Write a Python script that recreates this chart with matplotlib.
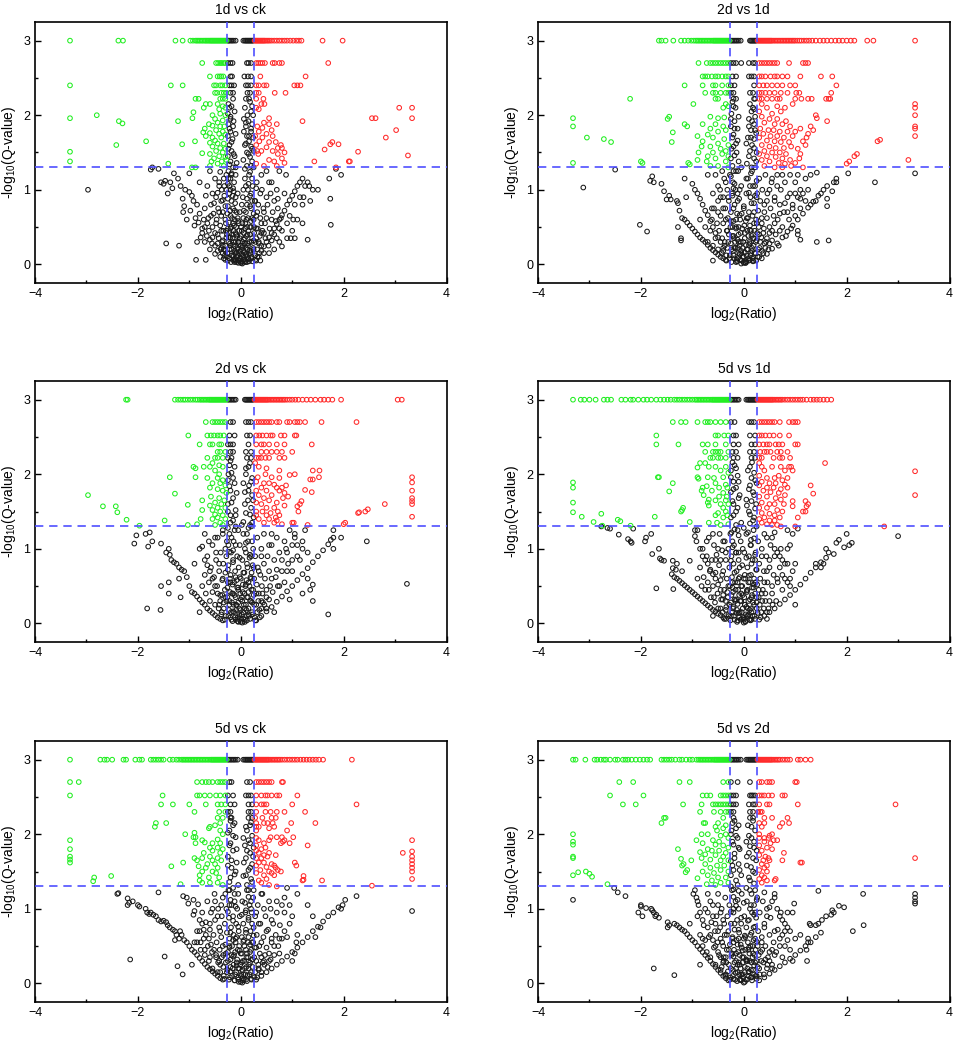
import matplotlib.pyplot as plt

plt.rcParams.update({'font.family': ['Liberation Sans', 'DejaVu Sans'], 'font.size': 8.5,
                     'mathtext.fontset': 'custom', 'mathtext.rm': 'Liberation Sans',
                     'mathtext.default': 'regular'})

titles = ["1d vs ck", "2d vs 1d", "2d vs ck", "5d vs 1d", "5d vs ck", "5d vs 2d"]

fc_cut = 0.263   # log2(1.2)
q_cut = 1.301    # -log10(0.05)

# ---------- 1d vs ck ----------
p1_green_rows = [
    (3.0, [-3.32, -2.38, -2.29, -1.27, -1.13, -0.98, -0.93, -0.88, -0.85, -0.82, -0.79, -0.76, -0.73, -0.7, -0.675, -0.65,
           -0.625, -0.6, -0.58, -0.56, -0.54, -0.52, -0.5, -0.48, -0.46, -0.44, -0.42, -0.4, -0.38, -0.36, -0.34, -0.32, -0.3, -0.28]),
    (2.7, [-0.75, -0.48, -0.44, -0.4, -0.37, -0.33, -0.3]),
    (2.52, [-0.6, -0.45, -0.41, -0.38, -0.34]),
    (2.4, [-3.32, -1.36, -1.13, -0.52, -0.48, -0.4, -0.36, -0.3]),
    (2.3, [-0.5, -0.46, -0.38, -0.33, -0.28]),
    (2.22, [-0.88, -0.82, -0.4, -0.35, -0.3]),
]
p1_green_pts = [(-0.68, 2.15), (-0.6, 2.15), (-0.45, 2.15), (-0.35, 2.12), (-0.72, 2.1), (-0.42, 2.08), (-0.3, 2.1), (-2.8, 2.0),
                (-0.55, 2.0), (-0.4, 2.02), (-0.3, 2.0), (-0.92, 2.04), (-3.32, 1.96), (-0.94, 1.96), (-0.5, 1.95), (-0.35, 1.93),
                (-2.37, 1.92), (-1.22, 1.92), (-0.45, 1.9), (-2.3, 1.89), (-0.62, 1.88), (-0.55, 1.86), (-0.4, 1.85), (-0.32, 1.85),
                (-0.7, 1.82), (-0.48, 1.8), (-0.35, 1.78), (-0.73, 1.77), (-0.6, 1.76), (-0.42, 1.75), (-0.3, 1.74), (-0.68, 1.72),
                (-0.55, 1.7), (-0.38, 1.7), (-0.5, 1.66), (-1.84, 1.65), (-0.89, 1.65), (-0.6, 1.63), (-0.45, 1.62), (-0.33, 1.62),
                (-2.42, 1.6), (-1.14, 1.61), (-0.55, 1.58), (-0.4, 1.56), (-0.3, 1.55), (-0.48, 1.52), (-3.32, 1.51), (-0.35, 1.5),
                (-0.75, 1.49), (-0.6, 1.48), (-0.42, 1.45), (-0.3, 1.44), (-0.52, 1.42), (-3.32, 1.38), (-0.57, 1.38), (-0.37, 1.38),
                (-1.41, 1.35), (-0.45, 1.35), (-0.6, 1.32), (-0.95, 1.3), (-0.88, 1.3), (-0.33, 1.32), (-0.28, 1.4)]
p1_red_rows = [
    (3.0, [0.27, 0.29, 0.31, 0.33, 0.35, 0.37, 0.39, 0.41, 0.43, 0.45, 0.47, 0.5, 0.53, 0.56, 0.6, 0.65, 0.7, 0.75, 0.8, 0.85,
           0.9, 0.96, 1.02, 1.08, 1.13, 1.18, 1.59, 1.98]),
    (2.7, [0.3, 0.34, 0.38, 0.42, 0.47, 0.62, 0.66, 0.75, 0.8, 1.7]),
    (2.52, [0.38, 1.26]),
    (2.4, [0.3, 0.35, 0.45, 0.5, 1.04, 1.1, 1.16]),
    (2.3, [0.3, 0.35, 0.66, 0.87]),
    (2.22, [0.3, 0.44]),
]
p1_red_pts = [(0.4, 2.15), (0.46, 2.15), (0.3, 2.1), (0.35, 2.08), (3.08, 2.1), (3.33, 2.1), (0.55, 1.96), (2.55, 1.96),
              (2.62, 1.96), (3.33, 1.96), (1.2, 1.92), (0.45, 1.9), (0.7, 1.88), (0.55, 1.88), (0.32, 1.85), (0.42, 1.83),
              (0.6, 1.8), (3.02, 1.8), (0.35, 1.78), (0.5, 1.75), (0.28, 1.72), (0.42, 1.7), (0.62, 1.72), (2.82, 1.7),
              (0.36, 1.65), (0.55, 1.64), (0.68, 1.64), (0.78, 1.6), (1.78, 1.64), (1.74, 1.61), (1.9, 1.61), (0.3, 1.6),
              (0.5, 1.57), (0.72, 1.56), (0.8, 1.56), (1.63, 1.54), (0.32, 1.52), (0.4, 1.52), (0.62, 1.52), (0.85, 1.5),
              (2.28, 1.51), (0.72, 1.48), (0.34, 1.48), (3.25, 1.46), (0.8, 1.42), (0.55, 1.4), (1.43, 1.38), (2.1, 1.38),
              (2.12, 1.38), (0.65, 1.38), (0.85, 1.36), (0.3, 1.35), (0.45, 1.32), (0.7, 1.32), (1.85, 1.3)]
p1_black_rows = [
    (3.0, [-0.25, -0.23, -0.2, -0.17, -0.14, -0.1, 0.05, 0.08, 0.1, 0.12, 0.14, 0.16, 0.18, 0.2, 0.22, 0.24]),
    (2.7, [-0.25, -0.2, -0.16, 0.12, 0.15, 0.2]),
    (2.52, [-0.2, -0.17, 0.07, 0.14, 0.2]),
    (2.4, [-0.22, -0.18, -0.13, 0.1, 0.14, 0.2]),
    (2.3, [-0.2, -0.15, 0.13, 0.18]),
    (2.22, [-0.15, 0.1, 0.16]),
]
p1_black_pts = [(-0.22, 2.1), (0.22, 2.12), (-0.25, 2.02), (0.13, 2.0), (0.2, 2.05), (-0.2, 1.95), (0.06, 1.95), (0.15, 1.92),
                (-0.24, 1.88), (-0.15, 1.85), (0.1, 1.85), (0.22, 1.88), (-0.2, 1.78), (0.2, 1.78), (0.12, 1.72), (-0.25, 1.72),
                (-0.16, 1.68), (0.16, 1.65), (0.24, 1.7), (-0.22, 1.6), (0.08, 1.6), (0.2, 1.58), (-0.18, 1.52), (0.12, 1.5),
                (0.25, 1.52), (-0.25, 1.45), (-0.12, 1.45), (0.18, 1.44), (-0.2, 1.38), (0.05, 1.4), (0.22, 1.38), (-0.15, 1.3),
                (0.12, 1.32), (0.25, 1.3), (-0.24, 1.25), (0.18, 1.24), (-0.1, 1.2), (-0.2, 1.15), (0.08, 1.15), (0.22, 1.15),
                (-0.25, 1.08), (0.15, 1.08), (-0.15, 1.02), (0.3, 1.02), (0.05, 1.0), (-0.22, 0.95), (0.2, 0.95), (-0.1, 0.9),
                (0.12, 0.88), (-0.18, 0.85), (0.28, 0.85), (0.02, 0.8), (-0.25, 0.78), (0.18, 0.78), (-0.12, 0.72), (0.1, 0.7),
                (0.25, 0.68), (-0.2, 0.65), (0.05, 0.62), (-0.05, 0.58), (0.2, 0.58), (-0.15, 0.55), (0.12, 0.5), (-0.25, 0.48),
                (0.3, 0.48), (0.02, 0.45), (-0.1, 0.42), (0.18, 0.4), (-0.2, 0.36), (0.08, 0.35), (0.25, 0.32), (-0.05, 0.3),
                (-0.15, 0.26), (0.14, 0.25), (0.03, 0.22), (-0.22, 0.2), (0.2, 0.18), (-0.08, 0.16), (0.1, 0.14), (-0.15, 0.12),
                (0.05, 0.1), (-0.02, 0.08), (0.15, 0.07), (-0.1, 0.05), (0.08, 0.04), (0.0, 0.02), (-0.05, 0.02), (0.03, 0.01),
                (-0.12, 0.03), (0.12, 0.03),
                (-2.97, 1.0), (-1.75, 1.27), (-1.72, 1.3), (-1.6, 1.28), (-1.55, 1.1), (-1.5, 1.08), (-1.47, 1.12), (-1.42, 0.95),
                (-1.37, 1.1), (-1.33, 1.02), (-1.3, 1.22), (-1.22, 1.15), (-1.17, 1.05), (-1.13, 0.88), (-1.1, 0.78), (-1.12, 0.7),
                (-1.08, 1.0), (-1.0, 0.97), (-0.98, 0.72), (-0.95, 0.92), (-0.92, 0.85), (-0.9, 0.52), (-0.88, 0.62), (-0.85, 0.8),
                (-0.82, 0.56), (-0.8, 0.68), (-0.78, 0.36), (-0.75, 0.48), (-0.72, 0.6), (-0.7, 0.75), (-0.7, 0.3), (-0.68, 0.92),
                (-0.65, 1.05), (-0.62, 0.45), (-0.6, 0.2), (-0.58, 0.65), (-0.55, 0.36), (-0.52, 0.82), (-0.5, 0.14), (-0.5, 1.15),
                (-0.48, 0.55), (-0.45, 0.28), (-0.45, 0.96), (-0.42, 0.7), (-0.4, 0.1), (-0.4, 1.24), (-0.38, 0.45), (-0.35, 0.86),
                (-0.33, 0.2), (-0.32, 1.05), (-0.3, 0.6), (-0.3, 0.06), (-0.28, 0.36), (-0.28, 1.2), (-1.45, 0.28), (-1.2, 0.25),
                (-0.87, 0.06), (-0.68, 0.06), (-0.8, 1.1), (-0.6, 1.25), (-1.0, 1.22), (-0.55, 0.95), (-0.65, 0.55), (-0.45, 0.4),
                (-0.35, 0.25), (-0.38, 0.65), (-0.42, 1.05), (-0.85, 0.3), (-1.05, 0.6),
                (0.3, 0.05), (0.35, 0.1), (0.4, 0.18), (0.45, 0.24), (0.5, 0.3), (0.55, 0.36), (0.6, 0.42), (0.65, 0.48),
                (0.7, 0.54), (0.75, 0.6), (0.8, 0.66), (0.85, 0.72), (0.9, 0.8), (0.95, 0.86), (1.0, 0.92), (1.05, 0.98),
                (1.1, 1.05), (1.15, 1.1), (1.2, 1.15), (0.35, 0.3), (0.4, 0.55), (0.45, 0.7), (0.5, 0.9), (0.55, 1.1),
                (0.6, 0.6), (0.65, 0.85), (0.7, 1.0), (0.75, 0.3), (0.8, 0.45), (0.85, 0.95), (0.9, 0.55), (0.95, 0.65),
                (1.0, 0.45), (1.02, 0.6), (1.05, 0.8), (1.1, 0.6), (1.15, 0.9), (1.2, 0.8), (1.22, 0.9), (1.25, 1.05),
                (1.3, 1.1), (1.33, 1.05), (1.4, 1.0), (1.5, 1.0), (1.2, 0.55), (1.3, 0.33), (0.97, 0.35), (0.8, 0.24),
                (1.75, 0.53), (1.74, 0.88), (1.72, 1.15), (1.95, 1.2), (1.85, 1.28), (0.4, 1.2), (0.5, 1.25), (0.38, 0.95),
                (0.32, 0.7), (0.6, 1.1), (0.65, 0.2), (0.55, 0.15), (0.45, 0.42), (0.72, 0.75), (0.88, 1.2), (0.75, 1.25),
                (1.35, 0.85), (1.05, 0.35), (0.9, 0.35)]
p1_black_core = [(-0.75, 0.42), (-0.7, 0.5), (-0.66, 0.38), (-0.63, 0.62), (-0.6, 0.33), (-0.58, 0.8), (-0.56, 0.28), (-0.55, 0.5),
                 (-0.53, 0.68), (-0.5, 0.25), (-0.5, 0.42), (-0.48, 0.9), (-0.47, 0.6), (-0.45, 0.18), (-0.44, 0.75), (-0.43, 0.35),
                 (-0.42, 1.1), (-0.4, 0.52), (-0.39, 0.2), (-0.38, 0.85), (-0.37, 1.0), (-0.36, 0.3), (-0.35, 0.15), (-0.35, 0.7),
                 (-0.34, 0.45), (-0.33, 1.15), (-0.32, 0.92), (-0.31, 0.12), (-0.3, 0.78), (-0.3, 0.25), (-0.29, 0.55), (-0.28, 1.0),
                 (-0.27, 0.4), (-0.27, 0.1), (-0.26, 0.68), (-0.25, 0.88), (-0.24, 0.3), (-0.24, 1.15), (-0.23, 0.56), (-0.22, 0.08),
                 (-0.22, 0.42), (-0.21, 0.72), (-0.2, 1.0), (-0.2, 0.25), (-0.19, 0.5), (-0.18, 1.2), (-0.18, 0.12), (-0.17, 0.62),
                 (-0.16, 0.92), (-0.16, 0.35), (-0.15, 0.75), (-0.14, 0.05), (-0.14, 0.45), (-0.13, 1.1), (-0.12, 0.18), (-0.12, 0.6),
                 (-0.11, 0.82), (-0.1, 0.3), (-0.1, 1.3), (-0.09, 0.5), (-0.08, 0.1), (-0.08, 0.7), (-0.07, 0.38), (-0.06, 0.95),
                 (-0.06, 0.22), (-0.05, 0.05), (-0.04, 0.55), (-0.03, 0.15), (-0.02, 0.35), (-0.02, 0.7), (0.0, 0.08), (0.0, 0.25),
                 (0.01, 0.5), (0.02, 0.04), (0.03, 0.3), (0.04, 0.9), (0.05, 0.18), (0.06, 0.42), (0.06, 0.72), (0.07, 0.06),
                 (0.08, 0.28), (0.09, 0.55), (0.1, 1.05), (0.1, 0.12), (0.11, 0.38), (0.12, 0.8), (0.13, 0.2), (0.14, 0.62),
                 (0.15, 0.08), (0.15, 0.45), (0.16, 1.2), (0.17, 0.3), (0.18, 0.92), (0.19, 0.15), (0.2, 0.5), (0.2, 0.75),
                 (0.21, 0.1), (0.22, 0.35), (0.23, 1.05), (0.24, 0.22), (0.25, 0.6), (0.26, 0.42), (0.27, 0.85), (0.28, 0.12),
                 (0.29, 0.3), (0.3, 0.65), (0.31, 1.1), (0.32, 0.2), (0.33, 0.48), (0.34, 0.8), (0.36, 0.15), (0.37, 0.38),
                 (0.38, 0.62), (0.4, 0.25), (0.41, 1.0), (0.42, 0.45), (0.44, 0.75), (0.45, 0.15), (0.47, 0.55), (0.48, 0.35),
                 (0.5, 0.62), (0.52, 0.8), (0.54, 0.25), (0.56, 0.48), (0.58, 0.95), (0.6, 0.32), (0.62, 0.7), (0.65, 0.4),
                 (0.68, 0.58), (0.7, 0.35), (0.72, 0.88), (0.75, 0.48), (0.78, 0.62),
                 (-0.24, 2.15), (-0.18, 2.12), (-0.12, 2.05), (0.08, 2.1), (0.18, 2.18), (0.24, 2.0), (-0.2, 1.98), (-0.14, 1.92),
                 (0.1, 1.9), (0.2, 1.82), (-0.22, 1.82), (-0.1, 1.75), (0.06, 1.78), (0.16, 1.72), (-0.18, 1.64), (-0.24, 1.55),
                 (0.1, 1.62), (0.22, 1.55), (-0.14, 1.48), (0.15, 1.48), (-0.22, 1.34), (-0.08, 1.36), (0.2, 1.32), (0.08, 1.28),
                 (-0.18, 1.22)]
p1_black_base = [(-0.38, 0.22), (-0.35, 0.32), (-0.33, 0.08), (-0.3, 0.18), (-0.28, 0.45), (-0.26, 0.15), (-0.25, 0.05),
                 (-0.23, 0.36), (-0.21, 0.28), (-0.2, 0.48), (-0.19, 0.03), (-0.18, 0.2), (-0.17, 0.4), (-0.15, 0.1), (-0.14, 0.3),
                 (-0.13, 0.52), (-0.12, 0.07), (-0.11, 0.24), (-0.1, 0.15), (-0.09, 0.4), (-0.08, 0.03), (-0.07, 0.2), (-0.06, 0.62),
                 (-0.05, 0.12), (-0.04, 0.3), (-0.03, 0.45), (-0.02, 0.05), (-0.01, 0.18), (0.0, 0.38), (0.01, 0.02), (0.02, 0.14),
                 (0.03, 0.55), (0.04, 0.25), (0.05, 0.06), (0.06, 0.33), (0.07, 0.16), (0.08, 0.48), (0.09, 0.03), (0.1, 0.22),
                 (0.11, 0.6), (0.12, 0.1), (0.13, 0.4), (0.14, 0.28), (0.16, 0.04), (0.17, 0.18), (0.18, 0.5), (0.2, 0.08),
                 (0.21, 0.3), (0.22, 0.62), (0.23, 0.04), (0.25, 0.2), (0.26, 0.5), (0.28, 0.06), (0.3, 0.35), (0.32, 0.1),
                 (0.35, 0.28), (0.38, 0.05), (0.4, 0.42), (-0.22, 1.05), (-0.14, 0.98), (0.14, 1.0), (0.22, 0.85)]

# ---------- 2d vs 1d ----------
p2_green_rows = [
    (3.0, [-1.65, -1.6, -1.52, -1.37, -1.22, -1.15, -1.08, -1.02, -0.97, -0.93, -0.9, -0.87, -0.84, -0.81, -0.78, -0.75, -0.72,
           -0.69, -0.66, -0.63, -0.6, -0.58, -0.56, -0.54, -0.52, -0.5, -0.48, -0.46, -0.44, -0.42, -0.4, -0.38, -0.36, -0.34,
           -0.32, -0.3, -0.28]),
    (2.7, [-0.88, -0.72, -0.65, -0.6, -0.55, -0.5, -0.45, -0.4, -0.35, -0.3]),
    (2.52, [-0.8, -0.75, -0.7, -0.62, -0.55, -0.5, -0.42, -0.35, -0.3]),
    (2.4, [-1.15, -0.8, -0.6, -0.55, -0.42, -0.3]),
    (2.3, [-0.75, -0.6, -0.55, -0.45, -0.35, -0.3]),
    (2.22, [-2.21, -0.55, -0.5]),
]
p2_green_pts = [(-0.98, 2.15), (-0.35, 2.15), (-0.4, 2.1), (-0.3, 2.12), (-3.32, 1.96), (-3.32, 1.85), (-1.45, 1.98), (-1.48, 1.95),
                (-0.65, 1.98), (-0.5, 1.96), (-0.38, 1.97), (-1.15, 1.88), (-1.1, 1.85), (-0.8, 1.88), (-0.55, 1.88), (-0.4, 1.85),
                (-0.65, 1.82), (-0.35, 1.8), (-1.38, 1.77), (-0.5, 1.78), (-0.7, 1.74), (-0.9, 1.72), (-3.05, 1.7), (-0.6, 1.7),
                (-0.38, 1.68), (-2.72, 1.68), (-2.58, 1.64), (-1.4, 1.64), (-0.8, 1.65), (-0.5, 1.62), (-0.3, 1.6), (-0.82, 1.58),
                (-0.65, 1.58), (-0.45, 1.55), (-0.35, 1.52), (-0.88, 1.5), (-0.6, 1.5), (-0.42, 1.48), (-0.3, 1.45), (-0.7, 1.45),
                (-0.9, 1.4), (-0.55, 1.42), (-0.72, 1.38), (-0.35, 1.38), (-2.0, 1.38), (-1.97, 1.36), (-1.08, 1.36), (-1.05, 1.34),
                (-3.32, 1.36), (-0.5, 1.32), (-0.65, 1.32), (-0.3, 1.3)]
p2_red_rows = [
    (3.0, [0.27, 0.29, 0.31, 0.33, 0.35, 0.37, 0.39, 0.41, 0.43, 0.45, 0.47, 0.49, 0.51, 0.53, 0.55, 0.58, 0.61, 0.64, 0.67,
           0.7, 0.73, 0.76, 0.79, 0.82, 0.85, 0.88, 0.91, 0.94, 0.97, 1.0, 1.04, 1.08, 1.12, 1.17, 1.22, 1.27, 1.33, 1.4, 1.48,
           1.55, 1.62, 1.7, 1.78, 1.85, 1.92, 2.0, 2.08, 2.15, 2.4, 2.52, 3.33]),
    (2.7, [0.3, 0.35, 0.4, 0.45, 0.5, 0.55, 0.6, 0.65, 0.88, 1.15, 1.2, 1.25]),
    (2.52, [0.3, 0.35, 0.42, 0.52, 0.6, 0.65, 0.75, 0.85, 1.1, 1.5, 1.72]),
    (2.4, [0.3, 0.38, 0.45, 0.55, 0.65, 0.75, 0.9, 1.0, 1.8]),
    (2.3, [0.3, 0.35, 0.42, 0.5, 0.6, 0.72, 0.85, 1.02, 1.08, 1.7]),
    (2.22, [0.3, 0.35, 0.45, 0.55, 0.65, 0.7, 1.0, 1.12, 1.25, 1.32, 1.6, 1.65, 1.68]),
]
p2_red_pts = [(0.35, 2.15), (0.45, 2.1), (0.65, 2.12), (0.8, 2.1), (0.95, 2.15), (0.3, 2.05), (0.55, 2.02), (0.72, 2.05),
              (1.4, 2.0), (1.42, 1.96), (1.62, 1.92), (0.35, 1.98), (0.5, 1.95), (0.65, 1.95), (0.82, 1.92), (0.4, 1.9),
              (0.6, 1.88), (0.75, 1.88), (0.9, 1.85), (1.1, 1.82), (1.3, 1.85), (1.35, 1.8), (0.32, 1.82), (0.48, 1.8),
              (0.58, 1.8), (0.7, 1.78), (0.85, 1.78), (1.0, 1.78), (1.25, 1.75), (0.38, 1.75), (0.52, 1.72), (0.65, 1.72),
              (0.78, 1.7), (0.95, 1.72), (1.22, 1.7), (0.3, 1.7), (0.45, 1.66), (0.6, 1.65), (0.72, 1.64), (0.88, 1.64),
              (1.15, 1.65), (1.2, 1.6), (2.6, 1.65), (2.65, 1.67), (0.35, 1.6), (0.5, 1.58), (0.62, 1.56), (0.78, 1.56),
              (0.92, 1.58), (1.05, 1.55), (0.4, 1.52), (0.55, 1.5), (0.7, 1.5), (0.82, 1.48), (1.1, 1.48), (0.3, 1.48),
              (0.45, 1.45), (0.62, 1.44), (0.75, 1.42), (0.9, 1.4), (1.08, 1.42), (2.2, 1.48), (2.15, 1.45), (0.35, 1.4),
              (0.5, 1.38), (0.68, 1.36), (0.8, 1.35), (1.0, 1.36), (2.05, 1.38), (2.0, 1.35), (3.2, 1.4), (0.4, 1.32),
              (0.6, 1.3), (0.75, 1.3), (0.92, 1.32), (1.15, 1.3), (3.33, 2.15), (3.33, 2.1), (3.33, 2.0), (3.33, 1.85),
              (3.33, 1.82), (3.33, 1.72)]
p2_black_rows = [
    (3.0, [-0.25, -0.22, -0.19, -0.16, -0.13, -0.1, -0.06, 0.12, 0.14, 0.16, 0.18, 0.2, 0.22, 0.24]),
    (2.7, [-0.25, -0.2, -0.15, -0.05, 0.1, 0.18, 0.22]),
    (2.52, [-0.22, -0.15, 0.1, 0.15, 0.2]),
    (2.4, [-0.25, -0.18, 0.2]),
    (2.3, [-0.25, -0.2, 0.12, 0.18]),
    (2.22, [-0.2, -0.15, 0.2, 0.22]),
]
p2_black_pts = [(-0.2, 2.12), (0.18, 2.1), (-0.24, 2.02), (0.15, 2.05), (0.22, 1.98), (-0.18, 1.92), (0.1, 1.95), (0.2, 1.88),
                (-0.25, 1.85), (-0.12, 1.82), (0.14, 1.8), (0.24, 1.76), (-0.2, 1.74), (0.08, 1.7), (0.2, 1.68), (-0.15, 1.62),
                (0.16, 1.6), (-0.24, 1.55), (0.12, 1.52), (0.25, 1.5), (-0.18, 1.46), (0.2, 1.42), (-0.1, 1.38), (0.06, 1.35),
                (-0.22, 1.32), (0.22, 1.3), (-0.15, 1.25), (0.14, 1.22), (-0.25, 1.18), (0.05, 1.15), (0.25, 1.12), (-0.18, 1.08),
                (0.18, 1.05), (-0.08, 1.0), (0.1, 0.96), (-0.22, 0.92), (0.25, 0.9), (-0.12, 0.85), (0.15, 0.82), (0.0, 0.78),
                (-0.2, 0.75), (0.2, 0.7), (-0.08, 0.66), (0.08, 0.62), (-0.25, 0.58), (0.25, 0.55), (-0.15, 0.5), (0.12, 0.46),
                (0.02, 0.42), (-0.2, 0.38), (0.2, 0.35), (-0.1, 0.3), (0.1, 0.26), (-0.18, 0.22), (0.16, 0.18), (-0.05, 0.15),
                (0.05, 0.12), (-0.12, 0.08), (0.12, 0.06), (0.0, 0.03), (-0.05, 0.01), (0.04, 0.02), (-0.15, 0.03), (0.18, 0.04),
                (-1.2, 0.62), (-1.15, 0.6), (-1.1, 0.56), (-1.05, 0.52), (-1.0, 0.48), (-0.95, 0.44), (-0.9, 0.4), (-0.85, 0.36),
                (-0.8, 0.33), (-0.75, 0.3), (-0.7, 0.26), (-0.65, 0.22), (-0.6, 0.19), (-0.55, 0.16), (-0.5, 0.13), (-0.45, 0.1),
                (-0.4, 0.08), (-0.35, 0.06), (-1.0, 1.08), (-0.95, 1.0), (-0.9, 0.95), (-0.85, 0.88), (-0.8, 0.8), (-0.75, 0.72),
                (-0.7, 0.66), (-0.65, 0.58), (-0.6, 0.5), (-0.55, 0.42), (-0.5, 0.36), (-0.45, 0.3), (-0.4, 0.22),
                (-0.55, 1.2), (-0.5, 1.05), (-0.45, 0.9), (-0.4, 0.75), (-0.35, 0.6), (-0.32, 0.45), (-0.6, 0.95), (-0.7, 1.2),
                (-0.42, 1.25), (-0.35, 1.1), (-0.3, 0.9), (-0.5, 0.7), (-0.62, 0.75), (-0.85, 0.6), (-0.75, 0.5),
                (-3.12, 1.03), (-2.5, 1.27), (-2.02, 0.53), (-1.88, 0.44), (-1.78, 1.18), (-1.82, 1.12), (-1.75, 1.1), (-1.6, 1.08),
                (-1.55, 0.98), (-1.5, 0.87), (-1.45, 0.92), (-1.42, 0.87), (-1.3, 0.85), (-1.28, 0.82), (-1.25, 0.72), (-1.28, 0.5),
                (-1.22, 0.35), (-1.22, 0.32), (-1.15, 1.15), (-1.12, 0.9), (-0.6, 0.05),
                (0.35, 0.08), (0.45, 0.14), (0.55, 0.21), (0.65, 0.28), (0.75, 0.36), (0.85, 0.44), (0.95, 0.52), (1.05, 0.6),
                (1.15, 0.68), (1.25, 0.76), (1.35, 0.84), (1.45, 0.92), (1.55, 1.0), (1.62, 1.05), (1.3, 0.8), (1.4, 0.85),
                (1.5, 0.95), (0.4, 0.28), (0.5, 0.42), (0.6, 0.55), (0.7, 0.68), (0.8, 0.82), (0.9, 0.95), (1.0, 1.1),
                (1.05, 1.2), (0.3, 0.4), (0.35, 0.55), (0.4, 0.7), (0.45, 0.85), (0.5, 1.0), (0.55, 1.15), (0.65, 1.05),
                (0.75, 1.2), (0.6, 0.85), (0.85, 0.7), (0.7, 0.45), (0.95, 0.8), (1.1, 1.0),
                (1.05, 0.45), (1.05, 0.4), (1.1, 0.33), (1.42, 0.3), (1.65, 0.32), (2.55, 1.1), (2.03, 1.22), (1.8, 1.1),
                (1.75, 1.1), (1.8, 1.15), (1.72, 0.98), (1.62, 0.88), (1.62, 0.78), (1.42, 1.23), (3.33, 1.22), (1.3, 1.2),
                (1.2, 1.15), (1.0, 0.95), (1.1, 0.88)]
p2_black_core = [(-0.7, 0.3), (-0.65, 0.45), (-0.62, 0.6), (-0.6, 0.25), (-0.58, 0.75), (-0.55, 0.35), (-0.52, 0.55), (-0.5, 0.2),
                 (-0.5, 0.85), (-0.48, 0.45), (-0.46, 1.0), (-0.45, 0.65), (-0.43, 0.15), (-0.42, 0.35), (-0.4, 0.9), (-0.4, 0.55),
                 (-0.38, 1.15), (-0.37, 0.25), (-0.36, 0.75), (-0.34, 0.12), (-0.33, 0.45), (-0.32, 1.0), (-0.31, 0.62), (-0.3, 0.3),
                 (-0.29, 0.85), (-0.28, 0.08), (-0.27, 1.2), (-0.26, 0.5), (-0.25, 0.7), (-0.24, 0.2), (-0.23, 0.95), (-0.22, 0.38),
                 (-0.21, 1.1), (-0.2, 0.58), (-0.2, 0.12), (-0.18, 0.8), (-0.17, 0.3), (-0.16, 1.0), (-0.15, 0.48), (-0.14, 0.06),
                 (-0.13, 0.68), (-0.12, 0.22), (-0.11, 1.25), (-0.1, 0.4), (-0.09, 0.88), (-0.08, 0.14), (-0.07, 0.6), (-0.06, 0.3),
                 (-0.05, 1.05), (-0.04, 0.05), (-0.03, 0.48), (-0.02, 0.22), (0.0, 0.75), (0.0, 0.1), (0.02, 0.35), (0.03, 0.02),
                 (0.04, 0.58), (0.05, 0.95), (0.06, 0.2), (0.07, 0.45), (0.08, 1.15), (0.09, 0.08), (0.1, 0.7), (0.11, 0.3),
                 (0.12, 0.52), (0.13, 0.9), (0.14, 0.15), (0.15, 0.38), (0.16, 1.25), (0.17, 0.65), (0.18, 0.05), (0.19, 0.25),
                 (0.2, 0.82), (0.21, 0.45), (0.22, 1.05), (0.23, 0.15), (0.24, 0.6), (0.25, 0.32), (0.26, 0.95), (0.27, 0.1),
                 (0.28, 0.72), (0.29, 0.5), (0.3, 1.15), (0.31, 0.22), (0.32, 0.85), (0.34, 0.36), (0.35, 0.62), (0.36, 1.0),
                 (0.38, 0.15), (0.39, 0.48), (0.4, 0.8), (0.42, 1.2), (0.43, 0.3), (0.45, 0.62), (0.46, 0.95), (0.48, 0.2),
                 (0.5, 0.5), (0.52, 0.75), (0.54, 1.1), (0.55, 0.32), (0.58, 0.65), (0.6, 0.9), (0.62, 0.4), (0.65, 1.2),
                 (0.66, 0.6), (0.68, 0.25), (0.7, 0.8), (0.72, 1.0), (0.75, 0.5), (0.78, 0.7), (0.8, 1.1), (0.82, 0.38),
                 (0.85, 0.9), (0.88, 0.6), (0.9, 1.2), (0.92, 0.48), (0.95, 0.75), (1.0, 0.65), (1.05, 0.9), (1.1, 0.75),
                 (1.15, 0.95), (1.2, 0.85), (1.25, 1.0),
                 (-0.22, 2.18), (-0.16, 2.1), (0.12, 2.15), (0.2, 2.08), (-0.25, 1.95), (-0.1, 1.98), (0.16, 1.92), (-0.18, 1.82),
                 (0.1, 1.85), (0.22, 1.8), (-0.22, 1.7), (-0.12, 1.66), (0.14, 1.7), (0.05, 1.62), (-0.2, 1.58), (0.2, 1.56),
                 (-0.14, 1.5), (0.1, 1.45), (-0.25, 1.42), (0.24, 1.38), (-0.05, 1.3), (0.15, 1.3), (-0.2, 1.25)]
p2_black_base = [(-0.4, 0.18), (-0.37, 0.3), (-0.34, 0.05), (-0.32, 0.22), (-0.29, 0.4), (-0.27, 0.12), (-0.25, 0.28),
                 (-0.24, 0.03), (-0.22, 0.5), (-0.21, 0.18), (-0.19, 0.35), (-0.18, 0.08), (-0.16, 0.22), (-0.15, 0.6),
                 (-0.13, 0.04), (-0.12, 0.33), (-0.11, 0.15), (-0.1, 0.5), (-0.08, 0.25), (-0.07, 0.06), (-0.06, 0.42),
                 (-0.05, 0.18), (-0.04, 0.68), (-0.02, 0.1), (-0.01, 0.3), (0.0, 0.02), (0.01, 0.52), (0.02, 0.16), (0.04, 0.26),
                 (0.05, 0.04), (0.06, 0.62), (0.08, 0.2), (0.09, 0.38), (0.1, 0.05), (0.12, 0.28), (0.13, 0.12), (0.14, 0.45),
                 (0.16, 0.22), (0.17, 0.08), (0.18, 0.35), (0.2, 0.55), (0.21, 0.15), (0.23, 0.3), (0.24, 0.05), (0.26, 0.42),
                 (0.28, 0.2), (0.3, 0.1), (0.32, 0.3), (0.35, 0.18), (0.38, 0.42), (0.42, 0.22), (0.45, 0.35), (0.5, 0.28),
                 (0.55, 0.45), (-0.2, 1.02), (-0.12, 0.95), (0.12, 1.05), (0.22, 0.92)]

# ---------- 2d vs ck ----------
p3_green_rows = [
    (3.0, [-2.23, -2.2, -1.28, -1.22, -1.17, -1.12, -1.08, -1.03, -0.98, -0.93, -0.88, -0.84, -0.8, -0.77, -0.74, -0.71,
           -0.68, -0.65, -0.62, -0.6, -0.58, -0.56, -0.54, -0.52, -0.5, -0.48, -0.46, -0.44, -0.42, -0.4, -0.38, -0.36,
           -0.34, -0.32, -0.3, -0.28]),
    (2.7, [-0.68, -0.55, -0.5, -0.45, -0.4, -0.35, -0.3]),
    (2.52, [-1.02, -0.65, -0.58, -0.52, -0.45, -0.4, -0.33]),
    (2.4, [-0.8, -0.6, -0.55, -0.42, -0.38]),
    (2.3, [-0.45, -0.4, -0.3]),
    (2.22, [-0.65, -0.5, -0.45, -0.35]),
]
p3_green_pts = [(-0.55, 2.15), (-0.6, 2.1), (-0.42, 2.12), (-0.35, 2.1), (-0.92, 2.1), (-0.88, 2.08), (-0.72, 2.1), (-0.5, 2.05),
                (-0.42, 2.0), (-1.38, 1.96), (-0.88, 1.96), (-0.65, 1.95), (-0.45, 1.95), (-0.35, 1.92), (-0.55, 1.88), (-0.4, 1.88),
                (-0.3, 1.85), (-0.6, 1.82), (-0.45, 1.8), (-0.35, 1.78), (-0.28, 1.75), (-1.28, 1.74), (-2.97, 1.72), (-0.58, 1.7),
                (-0.42, 1.68), (-0.32, 1.65), (-0.75, 1.65), (-0.5, 1.62), (-0.38, 1.6), (-2.68, 1.57), (-2.43, 1.57), (-1.03, 1.59),
                (-0.6, 1.58), (-0.45, 1.55), (-0.3, 1.55), (-0.55, 1.52), (-0.4, 1.5), (-0.75, 1.52), (-2.4, 1.49), (-0.5, 1.46),
                (-0.35, 1.45), (-0.45, 1.42), (-0.55, 1.4), (-0.3, 1.4), (-0.78, 1.4), (-2.22, 1.39), (-1.48, 1.38), (-0.4, 1.35),
                (-0.5, 1.32), (-0.35, 1.32), (-1.03, 1.32), (-0.85, 1.33), (-1.97, 1.31)]
p3_red_rows = [
    (3.0, [0.27, 0.29, 0.31, 0.33, 0.35, 0.37, 0.39, 0.41, 0.43, 0.45, 0.47, 0.49, 0.51, 0.53, 0.56, 0.59, 0.62, 0.65, 0.68,
           0.71, 0.74, 0.77, 0.8, 0.83, 0.86, 0.9, 0.95, 1.0, 1.06, 1.12, 1.2, 1.28, 1.36, 1.45, 1.55, 1.62, 1.7, 1.78, 1.95,
           3.05, 3.13]),
    (2.7, [0.3, 0.35, 0.4, 0.45, 0.5, 0.55, 0.6, 0.7, 0.75, 0.9, 0.95, 1.05, 1.1, 1.15, 1.25, 1.57, 2.25]),
    (2.52, [0.3, 0.36, 0.42, 0.5, 0.58, 0.62, 0.78, 0.85, 1.05, 1.08]),
    (2.4, [0.3, 0.4, 0.45, 0.55, 0.7, 0.85, 1.38]),
    (2.3, [0.4, 0.5, 0.6, 0.7, 0.8, 1.0]),
    (2.22, [0.3, 0.35, 0.4, 0.48, 0.55, 0.75, 0.85]),
]
p3_red_pts = [(0.28, 2.15), (0.35, 2.1), (0.5, 2.08), (0.48, 2.0), (0.75, 2.05), (1.4, 2.05), (1.53, 2.05), (1.05, 2.0),
              (0.95, 1.99), (0.33, 1.96), (0.6, 1.96), (0.75, 1.95), (1.35, 1.93), (1.4, 1.93), (1.52, 1.96), (0.3, 1.9),
              (0.45, 1.88), (0.55, 1.88), (0.65, 1.86), (0.4, 1.82), (0.7, 1.82), (0.8, 1.82), (0.88, 1.85), (0.3, 1.78),
              (0.5, 1.78), (0.75, 1.78), (0.85, 1.75), (1.25, 1.79), (1.38, 1.76), (0.35, 1.72), (0.6, 1.72), (0.92, 1.7),
              (0.45, 1.68), (0.55, 1.65), (0.82, 1.68), (0.3, 1.62), (0.7, 1.62), (1.18, 1.64), (1.15, 1.6), (0.4, 1.6),
              (0.85, 1.58), (1.1, 1.57), (0.5, 1.55), (0.65, 1.55), (0.3, 1.5), (0.42, 1.5), (0.58, 1.48), (0.72, 1.5),
              (1.12, 1.5), (0.3, 1.45), (0.5, 1.45), (0.68, 1.42), (0.75, 1.45), (0.35, 1.4), (0.55, 1.4), (0.7, 1.38),
              (0.45, 1.35), (0.65, 1.35), (0.8, 1.33), (1.0, 1.35), (1.03, 1.35), (1.3, 1.32), (2.0, 1.33), (2.03, 1.35),
              (2.28, 1.48), (2.3, 1.49), (2.42, 1.5), (2.47, 1.53), (2.8, 1.6), (3.33, 1.96), (3.33, 1.89), (3.33, 1.78),
              (3.33, 1.68), (3.33, 1.64), (3.33, 1.6), (3.33, 1.43)]
p3_black_rows = [
    (3.0, [-0.25, -0.22, -0.19, -0.16, -0.13, -0.1, 0.08, 0.1, 0.12, 0.14, 0.16, 0.18, 0.2, 0.22, 0.24]),
    (2.7, [-0.2, -0.15, 0.1, 0.15, 0.2]),
    (2.52, [-0.22, -0.12, 0.12, 0.18]),
    (2.4, [-0.25, -0.2, -0.15, 0.15]),
    (2.3, [-0.2, -0.15, 0.1, 0.2]),
    (2.22, [-0.25, -0.18, 0.12, 0.2]),
]
p3_black_pts = [(-0.22, 2.12), (0.15, 2.1), (-0.18, 2.02), (0.1, 2.0), (0.22, 1.95), (-0.25, 1.92), (-0.12, 1.88), (0.16, 1.85),
                (-0.2, 1.78), (0.08, 1.76), (0.22, 1.72), (-0.15, 1.68), (0.14, 1.65), (-0.25, 1.6), (0.2, 1.55), (-0.1, 1.52),
                (0.1, 1.48), (-0.2, 1.45), (0.25, 1.42), (-0.15, 1.38), (0.05, 1.36), (0.18, 1.32), (-0.25, 1.28), (-0.05, 1.25),
                (0.12, 1.2), (-0.18, 1.15), (0.22, 1.1), (-0.1, 1.05), (0.08, 1.0), (-0.22, 0.96), (0.18, 0.92), (-0.02, 0.88),
                (-0.15, 0.82), (0.12, 0.8), (0.25, 0.75), (-0.25, 0.72), (0.05, 0.68), (-0.1, 0.62), (0.2, 0.6), (-0.2, 0.55),
                (0.1, 0.52), (-0.05, 0.48), (0.15, 0.42), (-0.15, 0.4), (0.02, 0.35), (-0.22, 0.3), (0.22, 0.28), (-0.08, 0.24),
                (0.08, 0.2), (-0.15, 0.16), (0.15, 0.12), (-0.02, 0.1), (0.05, 0.06), (-0.1, 0.05), (0.0, 0.02), (0.03, 0.01),
                (-0.05, 0.02), (0.12, 0.04), (-0.2, 0.08),
                (-2.07, 1.07), (-2.03, 1.18), (-1.85, 1.2), (-1.8, 1.03), (-1.77, 1.22), (-1.72, 1.1), (-1.55, 1.07), (-1.45, 0.95),
                (-1.4, 1.0), (-1.38, 0.92), (-1.35, 0.85), (-1.3, 0.82), (-1.25, 0.8), (-1.2, 0.75), (-1.15, 0.72), (-1.1, 0.7),
                (-1.05, 0.62), (-1.55, 0.5), (-1.4, 0.55), (-1.4, 0.4), (-1.2, 0.6), (-1.17, 0.35), (-1.82, 0.2), (-1.56, 0.18),
                (-1.0, 0.5), (-0.95, 0.42), (-0.9, 0.4), (-0.85, 0.36), (-0.8, 0.32), (-0.75, 0.28), (-0.7, 0.25), (-0.65, 0.2),
                (-0.6, 0.17), (-0.55, 0.14), (-0.5, 0.11), (-0.45, 0.08), (-0.4, 0.06), (-0.35, 0.04), (-0.8, 0.15), (-0.8, 1.0),
                (-0.75, 1.03), (-0.7, 0.85), (-0.65, 0.78), (-0.6, 0.7), (-0.55, 0.6), (-0.5, 0.5), (-0.45, 0.4), (-0.4, 0.3),
                (-0.7, 1.2), (-0.62, 1.1), (-0.48, 0.95), (-0.42, 0.8), (-0.35, 0.6), (-0.3, 1.0), (-0.35, 1.2), (-0.5, 1.15),
                (-0.9, 0.8), (-0.3, 0.35),
                (0.3, 0.04), (0.4, 0.1), (0.5, 0.16), (0.6, 0.22), (0.7, 0.29), (0.8, 0.36), (0.9, 0.43), (1.0, 0.5),
                (1.1, 0.58), (1.2, 0.66), (1.3, 0.74), (1.4, 0.82), (1.5, 0.9), (1.6, 0.98), (1.7, 1.06), (1.75, 1.12),
                (1.8, 1.15), (1.8, 1.25), (1.8, 1.0), (1.95, 1.15), (1.4, 0.52), (1.4, 0.3), (1.7, 0.12), (3.23, 0.53),
                (0.95, 0.32), (1.25, 1.25), (0.95, 1.25), (1.05, 1.15), (1.0, 1.05), (0.9, 0.95), (0.8, 0.85), (0.7, 0.72),
                (0.6, 0.6), (0.5, 0.45), (0.4, 0.3), (1.2, 1.0), (1.3, 0.95), (1.1, 0.9), (1.3, 0.6), (1.35, 0.45),
                (1.2, 0.4), (0.65, 0.15), (0.45, 1.2), (0.55, 1.05), (0.4, 0.9), (0.35, 0.7), (0.6, 1.2), (0.85, 1.1),
                (0.75, 0.5), (0.9, 0.7), (1.0, 0.85), (2.45, 1.1)]
p3_black_core = [(-0.75, 0.5), (-0.7, 0.65), (-0.68, 0.4), (-0.65, 0.9), (-0.62, 0.55), (-0.6, 0.3), (-0.58, 0.75), (-0.55, 1.05),
                 (-0.55, 0.42), (-0.52, 0.62), (-0.5, 0.25), (-0.48, 0.85), (-0.46, 0.5), (-0.45, 1.15), (-0.43, 0.2), (-0.42, 0.7),
                 (-0.4, 0.38), (-0.39, 0.95), (-0.37, 0.15), (-0.36, 0.58), (-0.35, 1.25), (-0.34, 0.8), (-0.33, 0.28), (-0.31, 0.45),
                 (-0.3, 0.68), (-0.29, 0.1), (-0.28, 0.9), (-0.27, 1.1), (-0.26, 0.35), (-0.25, 0.55), (-0.24, 0.78), (-0.23, 0.18),
                 (-0.22, 1.2), (-0.21, 0.42), (-0.2, 0.65), (-0.19, 0.95), (-0.18, 0.05), (-0.17, 0.28), (-0.16, 0.52), (-0.15, 0.85),
                 (-0.14, 1.1), (-0.13, 0.15), (-0.12, 0.38), (-0.11, 0.7), (-0.1, 1.3), (-0.09, 0.25), (-0.08, 0.58), (-0.07, 0.9),
                 (-0.06, 0.08), (-0.05, 0.45), (-0.04, 0.75), (-0.03, 0.2), (-0.02, 1.05), (0.0, 0.32), (0.0, 0.6), (0.02, 0.12),
                 (0.03, 0.85), (0.04, 0.42), (0.05, 1.2), (0.06, 0.25), (0.07, 0.68), (0.08, 0.05), (0.09, 0.5), (0.1, 0.95),
                 (0.11, 0.18), (0.12, 0.35), (0.13, 0.75), (0.14, 1.1), (0.15, 0.55), (0.16, 0.1), (0.17, 0.88), (0.18, 0.3),
                 (0.19, 0.62), (0.2, 1.3), (0.21, 0.45), (0.22, 0.15), (0.23, 0.78), (0.24, 1.0), (0.25, 0.38), (0.26, 0.6),
                 (0.27, 0.08), (0.28, 0.9), (0.3, 0.25), (0.31, 0.52), (0.32, 1.15), (0.33, 0.75), (0.35, 0.4), (0.36, 0.18),
                 (0.38, 0.65), (0.4, 1.0), (0.41, 0.5), (0.43, 0.28), (0.45, 0.8), (0.47, 0.6), (0.5, 0.35), (0.52, 0.9),
                 (0.55, 0.7), (0.57, 0.5), (0.6, 1.05), (0.62, 0.42), (0.65, 0.85), (0.68, 0.62), (0.7, 1.15), (0.72, 0.5),
                 (0.75, 0.95), (0.8, 0.7), (0.85, 0.55), (0.88, 1.0), (0.92, 0.8), (1.0, 0.7), (1.05, 1.2), (1.1, 1.05),
                 (1.15, 0.85), (1.2, 1.1),
                 (-0.2, 2.18), (-0.12, 2.1), (0.18, 2.15), (0.1, 2.08), (-0.24, 2.0), (-0.15, 1.95), (0.2, 1.9), (0.05, 1.88),
                 (-0.22, 1.84), (-0.08, 1.75), (0.15, 1.78), (0.24, 1.65), (-0.18, 1.62), (0.08, 1.6), (-0.25, 1.5), (-0.1, 1.45),
                 (0.18, 1.46), (0.22, 1.35), (-0.2, 1.35), (0.02, 1.32), (-0.12, 1.25), (0.15, 1.28)]
p3_black_base = [(-0.42, 0.25), (-0.38, 0.12), (-0.36, 0.38), (-0.33, 0.2), (-0.31, 0.05), (-0.28, 0.3), (-0.26, 0.48),
                 (-0.24, 0.1), (-0.22, 0.25), (-0.21, 0.6), (-0.19, 0.15), (-0.17, 0.4), (-0.16, 0.03), (-0.14, 0.25),
                 (-0.13, 0.55), (-0.11, 0.08), (-0.1, 0.35), (-0.09, 0.18), (-0.07, 0.48), (-0.06, 0.03), (-0.05, 0.28),
                 (-0.03, 0.12), (-0.02, 0.62), (-0.01, 0.4), (0.0, 0.18), (0.01, 0.05), (0.03, 0.3), (0.04, 0.52), (0.05, 0.15),
                 (0.07, 0.4), (0.08, 0.02), (0.1, 0.25), (0.11, 0.58), (0.12, 0.1), (0.14, 0.35), (0.15, 0.2), (0.17, 0.5),
                 (0.18, 0.06), (0.2, 0.3), (0.21, 0.68), (0.23, 0.12), (0.24, 0.45), (0.26, 0.25), (0.28, 0.04), (0.3, 0.4),
                 (0.32, 0.15), (0.34, 0.3), (0.37, 0.08), (0.4, 0.2), (0.42, 0.4), (0.46, 0.25), (0.5, 0.2), (0.55, 0.32),
                 (-0.24, 1.05), (-0.15, 0.98), (0.1, 1.08), (0.2, 0.9)]

# ---------- 5d vs 1d ----------
p4_green_rows = [
    (3.0, [-3.32, -3.17, -3.1, -3.0, -2.88, -2.72, -2.65, -2.58, -2.38, -2.3, -2.2, -2.15, -2.05, -1.95, -1.88, -1.8, -1.7,
           -1.62, -1.55, -1.48, -1.42, -1.35, -1.3, -1.25, -1.2, -1.15, -1.1, -1.05, -1.0, -0.95, -0.92, -0.89, -0.86, -0.83,
           -0.8, -0.77, -0.74, -0.71, -0.68, -0.65, -0.62, -0.6, -0.58, -0.56, -0.54, -0.52, -0.5, -0.48, -0.46, -0.44, -0.42,
           -0.4, -0.38, -0.36, -0.34, -0.32, -0.3, -0.28]),
    (2.7, [-1.38, -1.22, -1.13, -0.9, -0.75, -0.7, -0.65, -0.55, -0.45, -0.35]),
    (2.52, [-1.7, -0.55, -0.5, -0.38, -0.3]),
    (2.4, [-1.7, -1.27, -0.8, -0.7, -0.55, -0.35]),
    (2.3, [-0.75, -0.6, -0.55, -0.5, -0.45, -0.3]),
    (2.22, [-0.65, -0.6, -0.5, -0.45, -0.35]),
]
p4_green_pts = [(-0.85, 2.15), (-0.75, 2.15), (-0.55, 2.1), (-0.9, 2.09), (-0.68, 2.1), (-0.35, 2.1), (-0.45, 2.05), (-0.3, 2.02),
                (-1.65, 1.96), (-1.67, 1.96), (-0.9, 1.96), (-0.88, 1.94), (-0.7, 1.96), (-0.58, 1.95), (-0.4, 1.96), (-3.32, 1.89),
                (-3.32, 1.82), (-1.38, 1.88), (-0.55, 1.88), (-0.35, 1.86), (-0.8, 1.82), (-0.72, 1.84), (-0.48, 1.82), (-0.32, 1.82),
                (-1.45, 1.77), (-0.82, 1.78), (-0.62, 1.78), (-0.4, 1.75), (-0.78, 1.72), (-0.48, 1.7), (-0.33, 1.7), (-0.68, 1.66),
                (-0.55, 1.65), (-0.35, 1.65), (-3.32, 1.62), (-0.7, 1.62), (-0.45, 1.6), (-0.3, 1.6), (-1.18, 1.55), (-1.2, 1.52),
                (-1.22, 1.5), (-0.68, 1.58), (-0.4, 1.55), (-0.35, 1.5), (-3.32, 1.49), (-2.77, 1.47), (-0.5, 1.48), (-0.32, 1.45),
                (-3.15, 1.43), (-1.73, 1.43), (-0.55, 1.45), (-0.4, 1.42), (-2.45, 1.39), (-2.4, 1.37), (-2.92, 1.36), (-1.05, 1.36),
                (-0.68, 1.35), (-0.52, 1.35), (-2.75, 1.31), (-2.2, 1.31), (-0.45, 1.32), (-0.3, 1.33)]
p4_red_rows = [
    (3.0, [0.27, 0.29, 0.31, 0.33, 0.35, 0.37, 0.39, 0.41, 0.43, 0.45, 0.47, 0.49, 0.51, 0.53, 0.55, 0.57, 0.6, 0.63, 0.66,
           0.69, 0.72, 0.75, 0.8, 0.85, 0.9, 0.95, 1.0, 1.05, 1.1, 1.15, 1.22, 1.3, 1.36, 1.42, 1.48, 1.55, 1.62, 1.7]),
    (2.7, [0.3, 0.35, 0.4, 0.45, 0.5, 0.55, 0.6, 0.7, 0.88, 0.95, 1.0, 1.05]),
    (2.52, [0.3, 0.35, 0.42, 0.5, 0.58, 0.7, 0.88]),
    (2.4, [0.3, 0.38, 0.45, 0.5, 0.62, 0.68, 0.75, 1.0, 1.05]),
    (2.3, [0.32, 0.4, 0.45, 0.52, 0.65, 0.72, 0.85]),
    (2.22, [0.3, 0.35, 0.58, 0.7, 0.75, 0.9]),
]
p4_red_pts = [(0.3, 2.15), (0.35, 2.1), (0.55, 2.1), (0.72, 2.1), (0.88, 2.1), (0.92, 2.1), (1.58, 2.15), (0.4, 2.05),
              (0.8, 2.05), (0.95, 2.05), (3.33, 2.04), (0.3, 1.98), (0.45, 1.95), (0.6, 1.95), (0.68, 1.98), (0.75, 1.92),
              (0.85, 1.95), (0.35, 1.9), (0.5, 1.88), (0.62, 1.88), (0.8, 1.86), (0.3, 1.85), (0.45, 1.82), (0.58, 1.82),
              (0.72, 1.8), (0.85, 1.82), (1.3, 1.85), (0.38, 1.78), (0.52, 1.76), (0.68, 1.75), (0.8, 1.72), (1.35, 1.74),
              (3.33, 1.72), (0.3, 1.7), (0.45, 1.7), (0.62, 1.68), (0.72, 1.66), (0.95, 1.64), (1.2, 1.64), (0.35, 1.62),
              (0.5, 1.6), (0.6, 1.6), (0.78, 1.6), (1.25, 1.6), (1.22, 1.57), (0.95, 1.57), (0.3, 1.55), (0.45, 1.55),
              (0.65, 1.52), (0.75, 1.5), (1.15, 1.5), (1.2, 1.5), (0.35, 1.48), (0.5, 1.47), (0.6, 1.45), (0.7, 1.42),
              (0.4, 1.42), (0.3, 1.4), (0.5, 1.38), (0.6, 1.38), (1.05, 1.42), (0.35, 1.35), (0.45, 1.33), (0.55, 1.32),
              (0.65, 1.32), (0.72, 1.3), (2.73, 1.3), (1.0, 1.3)]
p4_black_rows = [
    (3.0, [-0.25, -0.22, -0.19, -0.16, -0.13, -0.1, 0.05, 0.08, 0.1, 0.12, 0.14, 0.16, 0.18, 0.2, 0.22, 0.24]),
    (2.7, [-0.25, -0.18, 0.1, 0.15, 0.2]),
    (2.52, [-0.2, -0.15, 0.12, 0.22]),
    (2.4, [-0.2, -0.1, 0.15, 0.22]),
    (2.3, [-0.22, -0.15, 0.12, 0.2]),
    (2.22, [-0.2, -0.12, 0.15, 0.22]),
]
p4_black_pts = [(-0.18, 2.12), (0.12, 2.1), (-0.25, 2.05), (0.2, 2.02), (-0.12, 1.98), (0.15, 1.95), (-0.2, 1.9), (0.25, 1.88),
                (-0.15, 1.82), (0.1, 1.8), (-0.25, 1.76), (0.2, 1.72), (-0.1, 1.68), (0.15, 1.64), (-0.2, 1.6), (0.06, 1.58),
                (0.22, 1.54), (-0.15, 1.5), (0.12, 1.46), (-0.25, 1.42), (0.18, 1.38), (-0.05, 1.35), (0.25, 1.3), (-0.18, 1.26),
                (0.08, 1.22), (-0.1, 1.18), (0.2, 1.14), (-0.22, 1.1), (0.14, 1.05), (-0.02, 1.0), (-0.15, 0.95), (0.22, 0.92),
                (0.05, 0.88), (-0.25, 0.84), (0.15, 0.8), (-0.08, 0.75), (0.25, 0.72), (-0.18, 0.68), (0.1, 0.64), (0.0, 0.6),
                (-0.12, 0.55), (0.2, 0.52), (-0.22, 0.48), (0.06, 0.44), (-0.05, 0.4), (0.15, 0.35), (-0.15, 0.32), (0.25, 0.28),
                (0.02, 0.25), (-0.2, 0.22), (0.12, 0.18), (-0.1, 0.14), (0.08, 0.1), (-0.04, 0.06), (0.03, 0.03), (0.0, 0.01),
                (-0.12, 0.04), (0.15, 0.05), (-0.25, 0.1),
                (-1.4, 0.66), (-1.35, 0.62), (-1.3, 0.6), (-1.25, 0.57), (-1.2, 0.54), (-1.15, 0.51), (-1.1, 0.48), (-1.05, 0.45),
                (-1.0, 0.42), (-0.95, 0.39), (-0.9, 0.36), (-0.85, 0.33), (-0.8, 0.3), (-0.75, 0.27), (-0.7, 0.24), (-0.65, 0.21),
                (-0.6, 0.18), (-0.55, 0.16), (-0.5, 0.13), (-0.45, 0.11), (-0.4, 0.08), (-0.35, 0.06),
                (-2.77, 1.3), (-2.65, 1.28), (-2.6, 1.27), (-2.43, 1.19), (-2.25, 1.13), (-2.2, 1.1), (-2.18, 1.08), (-2.15, 1.27),
                (-1.9, 1.15), (-1.92, 1.1), (-1.8, 1.2), (-1.78, 0.93), (-1.65, 1.0), (-1.63, 0.87), (-1.6, 0.85), (-1.55, 0.84),
                (-1.38, 0.84), (-1.3, 0.8), (-1.38, 0.74), (-1.32, 0.72), (-1.2, 0.7), (-1.7, 0.47), (-1.37, 0.46), (-1.05, 0.84),
                (-0.95, 1.25), (-0.9, 1.25), (-0.95, 1.17), (-0.92, 1.1), (-0.85, 1.0), (-0.8, 0.9), (-0.75, 0.85), (-0.7, 0.8),
                (-0.65, 0.72), (-0.6, 0.66), (-0.55, 0.6), (-0.5, 0.52), (-0.45, 0.45), (-0.4, 0.38), (-0.35, 0.3), (-0.72, 1.1),
                (-0.68, 0.45), (-0.58, 0.35), (-0.6, 0.1), (-0.5, 1.0), (-0.45, 0.85), (-0.4, 1.1), (-0.35, 0.95), (-0.42, 0.65),
                (-0.3, 0.5), (-0.6, 1.2), (-0.55, 0.85),
                (0.3, 0.05), (0.4, 0.1), (0.5, 0.15), (0.6, 0.2), (0.7, 0.26), (0.8, 0.32), (0.9, 0.38), (1.0, 0.45),
                (1.1, 0.52), (1.2, 0.6), (1.3, 0.68), (1.4, 0.75), (1.5, 0.82), (1.6, 0.88), (1.65, 0.95), (1.6, 1.0),
                (1.8, 1.08), (1.85, 1.12), (1.95, 1.02), (2.0, 1.2), (2.05, 1.05), (2.1, 1.08), (1.75, 0.93), (1.55, 0.8),
                (1.5, 0.75), (1.4, 0.8), (3.0, 1.17), (1.0, 0.25), (0.45, 0.06), (0.85, 0.55), (0.9, 0.6), (0.95, 0.7),
                (0.8, 0.8), (0.75, 0.85), (0.7, 0.9), (0.65, 0.95), (0.85, 1.0), (0.9, 1.05), (0.55, 1.15), (0.6, 1.0),
                (0.5, 0.85), (0.45, 0.7), (0.4, 0.55), (0.35, 0.4), (0.55, 0.5), (0.65, 0.6), (0.75, 0.65), (1.0, 0.8),
                (0.95, 1.2), (1.05, 1.27), (0.85, 1.25), (0.6, 1.22), (0.45, 1.15), (0.35, 0.9)]
p4_black_core = [(-0.9, 0.6), (-0.85, 0.75), (-0.82, 0.5), (-0.8, 1.0), (-0.78, 0.62), (-0.75, 0.45), (-0.72, 0.9), (-0.7, 0.55),
                 (-0.68, 1.15), (-0.66, 0.7), (-0.64, 0.35), (-0.62, 0.85), (-0.6, 0.5), (-0.58, 1.05), (-0.56, 0.28), (-0.55, 0.68),
                 (-0.53, 0.92), (-0.51, 0.4), (-0.5, 0.2), (-0.48, 0.78), (-0.47, 1.2), (-0.45, 0.58), (-0.44, 0.32), (-0.42, 0.98),
                 (-0.41, 0.15), (-0.4, 0.7), (-0.38, 0.45), (-0.37, 1.1), (-0.35, 0.85), (-0.34, 0.22), (-0.33, 0.6), (-0.31, 0.35),
                 (-0.3, 1.0), (-0.29, 0.1), (-0.28, 0.75), (-0.27, 0.5), (-0.26, 1.2), (-0.25, 0.28), (-0.24, 0.9), (-0.23, 0.62),
                 (-0.22, 0.15), (-0.21, 0.42), (-0.2, 0.8), (-0.19, 1.05), (-0.18, 0.05), (-0.17, 0.55), (-0.16, 0.3), (-0.15, 0.95),
                 (-0.14, 0.7), (-0.13, 0.18), (-0.12, 1.25), (-0.11, 0.45), (-0.1, 0.85), (-0.09, 0.08), (-0.08, 0.62), (-0.07, 0.3),
                 (-0.06, 1.1), (-0.05, 0.5), (-0.04, 0.15), (-0.03, 0.78), (-0.02, 0.38), (0.0, 0.05), (0.01, 0.95), (0.02, 0.25),
                 (0.03, 0.6), (0.04, 0.12), (0.05, 1.2), (0.06, 0.42), (0.07, 0.75), (0.08, 0.2), (0.09, 0.55), (0.1, 0.9),
                 (0.11, 0.05), (0.12, 0.32), (0.13, 1.05), (0.14, 0.65), (0.15, 0.15), (0.16, 0.48), (0.17, 0.85), (0.18, 0.28),
                 (0.19, 1.25), (0.2, 0.6), (0.21, 0.1), (0.22, 0.4), (0.23, 0.95), (0.24, 0.72), (0.25, 0.2), (0.26, 0.52),
                 (0.28, 1.1), (0.29, 0.35), (0.3, 0.8), (0.32, 0.6), (0.34, 0.15), (0.35, 1.0), (0.37, 0.45), (0.39, 0.7),
                 (0.4, 1.2), (0.42, 0.3), (0.44, 0.9), (0.46, 0.55), (0.48, 0.2), (0.5, 0.75), (0.52, 1.05), (0.55, 0.4),
                 (0.58, 0.65), (0.6, 0.9), (0.63, 0.3), (0.66, 0.55), (0.7, 0.75), (0.72, 1.0), (0.75, 0.45), (0.8, 0.6),
                 (0.85, 0.8), (0.9, 0.5),
                 (-0.22, 2.16), (-0.15, 2.08), (0.16, 2.16), (0.08, 2.05), (-0.25, 1.96), (-0.1, 1.9), (0.22, 1.92), (0.12, 1.85),
                 (-0.2, 1.8), (-0.08, 1.72), (0.18, 1.76), (0.05, 1.66), (-0.22, 1.64), (0.24, 1.6), (-0.12, 1.55), (0.1, 1.5),
                 (-0.2, 1.45), (0.2, 1.42), (-0.15, 1.32), (0.12, 1.34), (-0.24, 1.22), (0.0, 1.28)]
p4_black_base = [(-0.45, 0.2), (-0.41, 0.32), (-0.38, 0.06), (-0.35, 0.18), (-0.32, 0.42), (-0.3, 0.12), (-0.28, 0.25),
                 (-0.26, 0.04), (-0.24, 0.38), (-0.22, 0.55), (-0.21, 0.2), (-0.19, 0.1), (-0.18, 0.32), (-0.16, 0.45),
                 (-0.15, 0.14), (-0.13, 0.02), (-0.12, 0.26), (-0.1, 0.6), (-0.09, 0.38), (-0.08, 0.15), (-0.06, 0.05),
                 (-0.05, 0.3), (-0.03, 0.5), (-0.02, 0.2), (-0.01, 0.08), (0.01, 0.35), (0.02, 0.65), (0.03, 0.02), (0.05, 0.22),
                 (0.06, 0.1), (0.07, 0.45), (0.09, 0.3), (0.1, 0.12), (0.12, 0.55), (0.13, 0.04), (0.14, 0.2), (0.16, 0.38),
                 (0.17, 0.1), (0.19, 0.48), (0.2, 0.25), (0.22, 0.06), (0.23, 0.55), (0.25, 0.35), (0.27, 0.14), (0.29, 0.45),
                 (0.31, 0.25), (0.33, 0.08), (0.36, 0.3), (0.39, 0.2), (0.42, 0.4), (0.45, 0.15), (0.5, 0.3), (0.56, 0.25),
                 (-0.22, 1.02), (-0.1, 0.95), (0.14, 1.12), (0.22, 0.85)]

# ---------- 5d vs ck ----------
p5_green_rows = [
    (3.0, [-3.32, -2.73, -2.65, -2.6, -2.5, -2.28, -2.23, -2.05, -1.97, -1.92, -1.75, -1.7, -1.65, -1.6, -1.55, -1.5, -1.38,
           -1.32, -1.25, -1.2, -1.15, -1.12, -1.09, -1.06, -1.03, -1.0, -0.97, -0.94, -0.91, -0.88, -0.85, -0.82, -0.79, -0.76,
           -0.73, -0.7, -0.67, -0.64, -0.61, -0.58, -0.56, -0.54, -0.52, -0.5, -0.48, -0.46, -0.44, -0.42, -0.4, -0.38, -0.36,
           -0.34, -0.32, -0.3, -0.28]),
    (2.7, [-3.32, -3.15, -0.85, -0.75, -0.68, -0.62, -0.55, -0.45, -0.4, -0.35, -0.3]),
    (2.52, [-3.32, -1.52, -0.85, -0.8, -0.7, -0.6, -0.48, -0.4, -0.3]),
    (2.4, [-1.55, -1.32, -1.0, -0.68, -0.45, -0.38, -0.3]),
    (2.3, [-0.9, -0.42, -0.3]),
    (2.22, [-0.45, -0.35]),
]
p5_green_pts = [(-1.65, 2.15), (-1.45, 2.15), (-1.67, 2.1), (-0.4, 2.15), (-0.5, 2.12), (-0.6, 2.1), (-0.62, 2.08), (-0.4, 2.05),
                (-1.08, 2.0), (-0.9, 2.02), (-0.35, 2.0), (-0.92, 1.96), (-0.88, 1.96), (-3.32, 1.92), (-0.75, 1.92), (-0.45, 1.93),
                (-0.55, 1.88), (-0.88, 1.88), (-0.7, 1.89), (-0.4, 1.88), (-3.32, 1.8), (-0.6, 1.82), (-0.45, 1.82), (-0.35, 1.8),
                (-0.72, 1.75), (-0.55, 1.78), (-0.4, 1.75), (-3.32, 1.7), (-3.32, 1.66), (-3.32, 1.62), (-0.75, 1.68), (-0.6, 1.7),
                (-0.45, 1.68), (-0.9, 1.68), (-0.85, 1.65), (-0.55, 1.65), (-0.38, 1.65), (-1.12, 1.62), (-0.65, 1.6), (-0.5, 1.6),
                (-1.35, 1.57), (-0.82, 1.57), (-0.68, 1.55), (-0.45, 1.55), (-0.75, 1.5), (-0.55, 1.5), (-0.48, 1.48), (-2.52, 1.44),
                (-0.8, 1.45), (-0.62, 1.42), (-0.42, 1.42), (-2.85, 1.42), (-2.87, 1.37), (-1.17, 1.33), (-0.8, 1.38), (-0.75, 1.35),
                (-0.6, 1.35), (-0.45, 1.35), (-0.35, 1.32)]
p5_red_rows = [
    (3.0, [0.27, 0.29, 0.31, 0.33, 0.35, 0.37, 0.39, 0.41, 0.43, 0.45, 0.47, 0.49, 0.51, 0.53, 0.55, 0.58, 0.61, 0.64, 0.67,
           0.7, 0.73, 0.76, 0.8, 0.85, 0.9, 0.95, 1.0, 1.05, 1.1, 1.16, 1.22, 1.28, 1.34, 1.4, 1.46, 1.52, 1.6, 2.16]),
    (2.7, [0.3, 0.35, 0.4, 0.45, 0.5, 0.55, 0.6, 0.8, 0.82]),
    (2.52, [0.3, 0.4, 0.48, 0.52, 0.6, 0.7, 0.75, 1.1]),
    (2.4, [0.3, 0.4, 0.45, 0.5, 1.0, 2.25]),
    (2.3, [0.3, 0.48, 0.58, 0.7, 0.85, 1.25]),
    (2.22, [0.28, 0.42, 0.6, 0.68]),
]
p5_red_pts = [(0.3, 2.15), (0.45, 2.15), (0.52, 2.15), (0.62, 2.15), (1.45, 2.15), (0.98, 2.15), (0.3, 2.1), (0.35, 2.1),
              (0.55, 2.08), (0.65, 2.1), (0.3, 2.05), (0.9, 2.05), (0.3, 1.95), (0.55, 1.92), (0.58, 1.96), (0.7, 1.96),
              (0.8, 1.96), (0.85, 1.92), (1.02, 1.96), (0.35, 1.92), (0.45, 1.88), (0.78, 1.88), (0.82, 1.9), (0.3, 1.85),
              (0.48, 1.82), (0.4, 1.8), (0.3, 1.78), (1.3, 1.85), (0.95, 1.88), (0.35, 1.75), (0.45, 1.72), (0.55, 1.75),
              (0.3, 1.68), (0.4, 1.68), (0.52, 1.7), (0.68, 1.72), (0.35, 1.62), (0.45, 1.62), (0.6, 1.6), (0.3, 1.58),
              (0.5, 1.56), (0.68, 1.55), (0.65, 1.58), (1.05, 1.62), (1.08, 1.58), (0.38, 1.52), (0.55, 1.5), (0.72, 1.52),
              (0.78, 1.5), (0.3, 1.48), (0.45, 1.45), (0.6, 1.48), (0.65, 1.45), (1.22, 1.44), (0.5, 1.4), (0.35, 1.38),
              (1.2, 1.38), (1.22, 1.39), (1.58, 1.38), (0.4, 1.35), (0.55, 1.32), (0.7, 1.3), (2.55, 1.31), (3.15, 1.75),
              (3.33, 1.92), (3.33, 1.77), (3.33, 1.7), (3.33, 1.65), (3.33, 1.6), (3.33, 1.55), (3.33, 1.5), (3.33, 1.4)]
p5_black_rows = [
    (3.0, [-0.25, -0.22, -0.19, -0.16, -0.13, -0.1, -0.06, 0.05, 0.08, 0.1, 0.12, 0.14, 0.16, 0.18, 0.2, 0.22, 0.24]),
    (2.7, [-0.22, -0.18, 0.12, 0.18]),
    (2.52, [-0.25, -0.15, 0.1, 0.15, 0.2]),
    (2.4, [-0.2, -0.12, 0.15, 0.22]),
    (2.3, [-0.25, -0.2, 0.15, 0.2]),
    (2.22, [-0.2, -0.18, 0.15, 0.22]),
]
p5_black_pts = [(-0.15, 2.12), (0.18, 2.12), (-0.22, 2.05), (0.12, 2.05), (0.22, 1.98), (-0.1, 1.96), (0.15, 1.92), (-0.2, 1.88),
                (0.08, 1.85), (0.25, 1.82), (-0.15, 1.78), (0.18, 1.75), (-0.25, 1.7), (0.1, 1.68), (-0.08, 1.62), (0.22, 1.6),
                (-0.18, 1.55), (0.15, 1.52), (-0.12, 1.46), (0.05, 1.44), (0.2, 1.4), (-0.22, 1.36), (0.12, 1.32), (-0.15, 1.28),
                (0.25, 1.25), (-0.05, 1.2), (0.15, 1.16), (-0.2, 1.12), (0.08, 1.08), (-0.1, 1.03), (0.2, 1.0), (-0.25, 0.96),
                (0.02, 0.92), (0.15, 0.88), (-0.15, 0.84), (0.22, 0.8), (-0.05, 0.76), (0.1, 0.72), (-0.2, 0.68), (0.25, 0.64),
                (-0.1, 0.6), (0.05, 0.56), (0.18, 0.52), (-0.22, 0.48), (-0.02, 0.44), (0.12, 0.4), (-0.15, 0.36), (0.22, 0.32),
                (0.02, 0.28), (-0.08, 0.24), (0.15, 0.2), (-0.2, 0.16), (0.05, 0.12), (-0.05, 0.08), (0.1, 0.05), (0.0, 0.02),
                (-0.12, 0.04), (0.03, 0.01), (0.2, 0.06),
                (-2.4, 1.2), (-2.38, 1.21), (-2.2, 1.14), (-2.2, 1.05), (-2.17, 1.08), (-2.1, 1.1), (-2.0, 1.05), (-1.97, 1.03),
                (-1.85, 1.0), (-1.82, 0.95), (-1.78, 0.93), (-1.75, 0.95), (-1.7, 0.92), (-1.65, 0.9), (-1.6, 0.85), (-1.55, 0.83),
                (-1.5, 0.84), (-1.45, 0.82), (-1.42, 0.78), (-1.38, 0.75), (-1.32, 0.72), (-1.28, 0.7), (-1.25, 0.65), (-1.18, 0.7),
                (-1.15, 0.65), (-1.28, 0.58), (-1.2, 0.6), (-1.1, 0.58), (-1.05, 0.55), (-1.0, 0.5), (-0.95, 0.45), (-0.9, 0.42),
                (-0.85, 0.38), (-0.8, 0.34), (-0.75, 0.3), (-0.7, 0.26), (-0.65, 0.22), (-0.6, 0.19), (-0.55, 0.16), (-0.5, 0.13),
                (-0.45, 0.1), (-0.4, 0.07), (-0.35, 0.05), (-1.6, 1.22), (-1.12, 1.17), (-1.05, 1.15), (-1.02, 1.07), (-0.92, 1.12),
                (-0.83, 1.06), (-0.9, 0.97), (-0.92, 0.92), (-0.8, 0.85), (-0.75, 0.8), (-0.72, 0.72), (-0.68, 0.65), (-0.62, 0.6),
                (-0.58, 0.52), (-0.52, 0.45), (-0.48, 0.38), (-0.42, 0.3), (-0.78, 0.55), (-0.7, 0.45), (-0.6, 0.35), (-2.15, 0.32),
                (-1.48, 0.36), (-1.23, 0.23), (-1.13, 0.12), (-0.95, 0.25), (-0.9, 0.55), (-0.85, 0.7), (-0.55, 1.0), (-0.5, 1.1),
                (-0.45, 0.9), (-0.4, 0.7), (-0.35, 0.5), (-0.6, 0.8), (-0.3, 1.2), (-0.38, 1.05),
                (0.3, 0.05), (0.4, 0.1), (0.5, 0.15), (0.6, 0.2), (0.7, 0.25), (0.8, 0.3), (0.9, 0.36), (1.0, 0.42),
                (1.1, 0.48), (1.2, 0.55), (1.3, 0.62), (1.4, 0.7), (1.5, 0.76), (1.6, 0.83), (1.7, 0.9), (1.8, 0.95),
                (1.9, 1.02), (1.98, 1.05), (2.03, 1.12), (2.25, 1.17), (1.95, 1.0), (1.55, 0.75), (1.45, 0.62), (3.33, 0.97),
                (1.3, 1.05), (1.4, 0.9), (1.0, 0.9), (0.95, 1.05), (0.85, 1.15), (1.1, 1.2), (0.95, 0.8), (0.85, 0.7),
                (0.75, 0.6), (0.65, 0.5), (0.55, 0.4), (0.45, 0.3), (0.35, 0.2), (0.4, 0.55), (0.5, 0.7), (0.6, 0.85),
                (0.7, 0.95), (0.55, 1.1), (0.45, 1.0), (0.35, 0.8), (0.8, 1.05), (0.9, 1.28), (1.0, 0.3), (1.05, 0.4),
                (1.08, 0.55), (1.1, 0.65), (0.6, 0.6), (0.75, 0.4), (0.4, 1.2), (0.3, 0.95)]
p5_black_core = [(-0.85, 0.55), (-0.8, 0.7), (-0.78, 0.45), (-0.75, 0.95), (-0.72, 0.6), (-0.7, 0.38), (-0.68, 0.82), (-0.65, 1.1),
                 (-0.64, 0.5), (-0.62, 0.3), (-0.6, 0.72), (-0.58, 0.95), (-0.56, 0.42), (-0.55, 0.2), (-0.53, 0.65), (-0.51, 1.2),
                 (-0.5, 0.85), (-0.48, 0.35), (-0.47, 0.55), (-0.45, 0.15), (-0.44, 1.0), (-0.42, 0.75), (-0.41, 0.45), (-0.4, 0.25),
                 (-0.38, 0.62), (-0.37, 0.9), (-0.35, 1.15), (-0.34, 0.38), (-0.33, 0.1), (-0.31, 0.8), (-0.3, 0.52), (-0.29, 0.28),
                 (-0.28, 1.0), (-0.27, 0.68), (-0.26, 0.18), (-0.25, 0.42), (-0.24, 1.25), (-0.23, 0.88), (-0.22, 0.6), (-0.21, 0.08),
                 (-0.2, 0.32), (-0.19, 0.75), (-0.18, 1.05), (-0.17, 0.5), (-0.16, 0.2), (-0.15, 0.9), (-0.14, 0.65), (-0.13, 0.38),
                 (-0.12, 1.2), (-0.11, 0.12), (-0.1, 0.55), (-0.09, 0.8), (-0.08, 0.28), (-0.07, 1.0), (-0.06, 0.45), (-0.05, 0.05),
                 (-0.04, 0.7), (-0.03, 0.2), (-0.02, 0.9), (0.0, 0.4), (0.01, 0.12), (0.02, 0.62), (0.03, 1.1), (0.04, 0.3),
                 (0.05, 0.8), (0.06, 0.05), (0.07, 0.5), (0.08, 0.2), (0.09, 0.95), (0.1, 0.68), (0.11, 0.35), (0.12, 1.25),
                 (0.13, 0.1), (0.14, 0.55), (0.15, 0.85), (0.16, 0.25), (0.17, 1.05), (0.18, 0.42), (0.19, 0.7), (0.2, 0.15),
                 (0.21, 0.95), (0.22, 0.55), (0.23, 0.32), (0.24, 1.15), (0.25, 0.75), (0.26, 0.08), (0.27, 0.48), (0.28, 0.9),
                 (0.3, 0.3), (0.31, 0.65), (0.33, 1.05), (0.35, 0.18), (0.36, 0.5), (0.38, 0.8), (0.4, 0.35), (0.42, 1.2),
                 (0.44, 0.62), (0.46, 0.25), (0.48, 0.9), (0.5, 0.48), (0.53, 0.72), (0.55, 0.3), (0.58, 1.0), (0.6, 0.55),
                 (0.63, 0.8), (0.65, 0.38), (0.68, 0.65), (0.7, 1.1), (0.73, 0.5), (0.76, 0.78), (0.8, 0.6), (0.85, 0.95),
                 (0.9, 0.62),
                 (-0.2, 2.18), (-0.12, 2.15), (0.2, 2.16), (0.1, 2.1), (-0.25, 2.02), (-0.15, 1.98), (0.05, 1.95), (0.18, 1.88),
                 (-0.22, 1.85), (-0.08, 1.8), (0.12, 1.78), (0.24, 1.7), (-0.18, 1.65), (0.06, 1.62), (-0.25, 1.58), (0.18, 1.55),
                 (-0.1, 1.5), (0.1, 1.45), (-0.2, 1.42), (0.22, 1.36), (-0.05, 1.32), (0.15, 1.25), (-0.22, 1.25)]
p5_black_base = [(-0.44, 0.28), (-0.4, 0.15), (-0.37, 0.35), (-0.34, 0.22), (-0.32, 0.06), (-0.29, 0.4), (-0.27, 0.15),
                 (-0.25, 0.3), (-0.23, 0.05), (-0.22, 0.5), (-0.2, 0.22), (-0.18, 0.38), (-0.17, 0.1), (-0.15, 0.58),
                 (-0.14, 0.25), (-0.12, 0.04), (-0.11, 0.42), (-0.09, 0.15), (-0.08, 0.62), (-0.07, 0.32), (-0.05, 0.2),
                 (-0.04, 0.02), (-0.03, 0.5), (-0.01, 0.25), (0.0, 0.1), (0.02, 0.4), (0.03, 0.18), (0.04, 0.04), (0.06, 0.58),
                 (0.07, 0.3), (0.09, 0.12), (0.1, 0.45), (0.11, 0.22), (0.12, 0.03), (0.14, 0.35), (0.15, 0.62), (0.17, 0.12),
                 (0.18, 0.28), (0.2, 0.45), (0.21, 0.05), (0.23, 0.22), (0.24, 0.55), (0.26, 0.35), (0.28, 0.15), (0.3, 0.48),
                 (0.32, 0.08), (0.34, 0.25), (0.37, 0.4), (0.4, 0.15), (0.43, 0.28), (0.47, 0.38), (0.52, 0.22), (0.58, 0.32),
                 (-0.22, 1.05), (-0.12, 1.1), (0.1, 0.98), (0.2, 1.1)]

# ---------- 5d vs 2d ----------
p6_green_rows = [
    (3.0, [-3.32, -3.27, -3.08, -2.9, -2.85, -2.78, -2.72, -2.68, -2.6, -2.5, -2.45, -2.35, -2.3, -2.25, -2.18, -2.1, -2.02,
           -1.95, -1.88, -1.82, -1.6, -1.55, -1.5, -1.45, -1.4, -1.33, -1.25, -1.2, -1.12, -1.05, -1.0, -0.92, -0.88, -0.85,
           -0.82, -0.79, -0.76, -0.73, -0.7, -0.67, -0.64, -0.61, -0.58, -0.56, -0.54, -0.52, -0.5, -0.48, -0.46, -0.44, -0.42,
           -0.4, -0.38, -0.36, -0.34, -0.32, -0.3, -0.28]),
    (2.7, [-2.42, -2.15, -1.25, -1.05, -0.4, -0.3]),
    (2.52, [-2.6, -1.95, -0.8, -0.72, -0.65, -0.45, -0.4, -0.35, -0.3]),
    (2.4, [-2.35, -2.1, -1.18, -0.82, -0.6, -0.55, -0.5, -0.45, -0.4, -0.35, -0.3]),
    (2.3, [-0.85, -0.58, -0.45, -0.35, -0.3]),
    (2.22, [-1.55, -1.52, -0.4]),
]
p6_green_pts = [(-1.6, 2.15), (-0.78, 2.15), (-0.75, 2.15), (-0.5, 2.15), (-0.35, 2.12), (-0.55, 2.1), (-0.4, 2.08), (-0.52, 2.05),
                (-0.35, 2.0), (-0.82, 2.0), (-0.7, 2.0), (-3.32, 2.0), (-0.45, 1.98), (-0.3, 1.95), (-0.92, 1.92), (-0.6, 1.92),
                (-0.48, 1.9), (-3.32, 1.9), (-3.32, 1.86), (-0.8, 1.88), (-0.55, 1.86), (-0.4, 1.85), (-0.3, 1.82), (-0.7, 1.8),
                (-1.28, 1.8), (-0.62, 1.78), (-0.48, 1.78), (-0.35, 1.75), (-0.85, 1.76), (-0.75, 1.73), (-0.55, 1.72), (-0.4, 1.7),
                (-3.32, 1.7), (-3.32, 1.68), (-1.22, 1.67), (-0.82, 1.68), (-0.65, 1.66), (-0.45, 1.65), (-0.3, 1.65), (-1.02, 1.65),
                (-1.17, 1.6), (-1.2, 1.58), (-0.75, 1.6), (-0.52, 1.58), (-0.38, 1.58), (-0.65, 1.55), (-0.45, 1.52), (-0.3, 1.5),
                (-1.1, 1.52), (-1.13, 1.49), (-0.8, 1.5), (-0.58, 1.48), (-3.22, 1.49), (-3.07, 1.5), (-3.0, 1.47), (-2.95, 1.43),
                (-3.32, 1.45), (-0.7, 1.45), (-0.5, 1.42), (-0.35, 1.42), (-0.9, 1.41), (-0.62, 1.38), (-0.45, 1.35), (-0.3, 1.35),
                (-2.65, 1.33), (-0.55, 1.32), (-0.72, 1.33)]
p6_red_rows = [
    (3.0, [0.27, 0.29, 0.31, 0.33, 0.35, 0.37, 0.39, 0.41, 0.43, 0.45, 0.47, 0.49, 0.51, 0.53, 0.55, 0.58, 0.61, 0.64, 0.67,
           0.7, 0.75, 0.8, 0.85, 0.9, 1.05, 1.1, 1.2, 1.3]),
    (2.7, [0.3, 0.35, 0.45, 0.5, 0.55, 1.0, 1.03]),
    (2.52, [0.3, 0.35, 0.4, 0.48, 0.55, 0.75, 0.8]),
    (2.4, [0.3, 0.45, 0.5, 1.05, 2.95]),
    (2.3, [0.28, 0.32, 0.35]),
    (2.22, [0.4, 0.55, 0.85]),
]
p6_red_pts = [(0.3, 2.15), (0.4, 2.15), (0.75, 2.15), (0.88, 2.15), (0.35, 2.1), (0.7, 2.1), (0.3, 2.0), (0.5, 1.98),
              (0.55, 2.0), (0.3, 1.95), (0.4, 1.95), (0.48, 1.95), (0.58, 1.92), (0.65, 1.92), (0.4, 1.9), (0.52, 1.88),
              (0.3, 1.85), (0.45, 1.82), (0.35, 1.78), (0.55, 1.8), (0.78, 1.75), (0.3, 1.72), (0.42, 1.7), (0.48, 1.68),
              (0.38, 1.65), (0.5, 1.65), (0.75, 1.65), (1.1, 1.62), (1.13, 1.62), (3.33, 1.68), (0.35, 1.6), (0.45, 1.58),
              (0.4, 1.55), (0.3, 1.52), (0.45, 1.5), (0.35, 1.45), (0.4, 1.42), (0.3, 1.4), (0.6, 1.38), (0.62, 1.4),
              (0.45, 1.38), (0.35, 1.35)]
p6_black_rows = [
    (3.0, [-0.25, -0.22, -0.19, -0.16, -0.13, -0.1, -0.06, 0.05, 0.08, 0.1, 0.12, 0.14, 0.16, 0.18, 0.2, 0.22, 0.24]),
    (2.7, [-0.25, -0.12, 0.12]),
    (2.52, [-0.25, -0.2, -0.15, 0.12, 0.15, 0.18, 0.22]),
    (2.4, [-0.25, -0.2, -0.15, 0.1, 0.18, 0.22]),
    (2.3, [-0.25, -0.2, 0.12, 0.18]),
    (2.22, [-0.2, 0.12, 0.18]),
]
p6_black_pts = [(-0.22, 2.15), (0.15, 2.1), (-0.15, 2.08), (0.22, 2.05), (-0.25, 2.0), (0.1, 1.98), (-0.12, 1.95), (0.2, 1.9),
                (-0.2, 1.86), (0.12, 1.84), (-0.08, 1.8), (0.25, 1.78), (-0.18, 1.74), (0.06, 1.7), (0.18, 1.68), (-0.25, 1.64),
                (-0.1, 1.6), (0.14, 1.56), (-0.2, 1.52), (0.22, 1.48), (-0.05, 1.45), (0.1, 1.42), (-0.15, 1.38), (0.2, 1.34),
                (-0.25, 1.3), (0.05, 1.28), (-0.1, 1.24), (0.15, 1.2), (-0.2, 1.16), (0.25, 1.12), (0.0, 1.08), (-0.15, 1.04),
                (0.12, 1.0), (-0.25, 0.96), (0.2, 0.92), (-0.05, 0.88), (0.08, 0.84), (-0.18, 0.8), (0.22, 0.76), (-0.1, 0.72),
                (0.15, 0.68), (0.02, 0.64), (-0.22, 0.6), (0.25, 0.56), (-0.12, 0.52), (0.1, 0.48), (-0.02, 0.44), (0.18, 0.4),
                (-0.2, 0.36), (0.05, 0.32), (-0.1, 0.28), (0.2, 0.24), (-0.15, 0.2), (0.1, 0.16), (-0.05, 0.12), (0.15, 0.08),
                (-0.08, 0.05), (0.02, 0.02), (0.0, 0.01), (-0.2, 0.06), (0.25, 0.1),
                (-3.32, 1.12), (-2.52, 1.28), (-2.45, 1.22), (-2.3, 1.17), (-2.0, 1.05), (-2.0, 1.03), (-1.9, 1.01), (-2.05, 0.95),
                (-1.97, 0.9), (-1.8, 1.0), (-1.78, 0.98), (-1.75, 0.95), (-1.7, 0.92), (-1.72, 0.9), (-1.65, 0.88), (-1.48, 0.82),
                (-1.45, 0.78), (-1.48, 0.75), (-1.35, 0.8), (-1.3, 0.78), (-1.25, 0.75), (-1.2, 0.72), (-1.15, 0.7), (-1.1, 0.66),
                (-1.05, 0.62), (-1.0, 0.58), (-0.95, 0.55), (-0.9, 0.5), (-0.85, 0.46), (-0.8, 0.42), (-0.75, 0.38), (-0.7, 0.34),
                (-0.65, 0.3), (-0.6, 0.26), (-0.55, 0.22), (-0.5, 0.18), (-0.45, 0.14), (-0.4, 0.1), (-0.35, 0.07), (-0.3, 0.04),
                (-1.75, 0.2), (-1.35, 0.11), (-0.85, 0.25), (-0.95, 1.25), (-0.98, 1.2), (-0.9, 1.1), (-0.92, 1.15), (-0.88, 1.05),
                (-0.85, 0.95), (-0.9, 0.9), (-0.8, 0.85), (-0.75, 1.0), (-0.7, 0.75), (-0.65, 0.65), (-0.6, 0.58), (-0.55, 0.5),
                (-0.5, 0.42), (-0.45, 0.35), (-0.4, 0.28), (-0.7, 1.2), (-0.65, 1.1), (-0.6, 0.9), (-0.55, 0.8), (-0.5, 0.7),
                (-0.45, 0.6), (-0.4, 0.5), (-0.35, 0.35), (-0.5, 1.05), (-0.45, 0.95), (-0.38, 0.8), (-0.33, 0.65), (-1.05, 0.8),
                (-0.8, 0.6),
                (0.3, 0.04), (0.4, 0.08), (0.5, 0.13), (0.6, 0.18), (0.7, 0.23), (0.8, 0.28), (0.9, 0.33), (1.0, 0.38),
                (1.1, 0.44), (1.2, 0.5), (1.3, 0.55), (1.4, 0.62), (1.5, 0.68), (1.25, 0.6), (1.28, 0.8), (1.3, 0.78),
                (1.4, 0.78), (1.45, 0.8), (1.52, 0.85), (1.6, 0.9), (1.7, 0.92), (1.75, 0.95), (1.72, 0.98), (1.85, 1.04),
                (1.95, 1.02), (1.45, 1.24), (0.98, 1.07), (2.12, 0.7), (2.33, 0.78), (2.32, 1.2), (3.33, 1.2), (3.33, 1.15),
                (3.33, 1.1), (3.33, 1.07), (1.25, 0.55), (1.22, 0.45), (1.23, 0.3), (0.95, 0.3), (0.85, 0.75), (0.8, 0.8),
                (0.75, 0.85), (0.7, 0.9), (0.65, 1.0), (0.55, 1.1), (0.6, 1.2), (0.4, 1.22), (0.5, 1.02), (0.45, 0.9),
                (0.4, 0.75), (0.35, 0.55), (0.6, 0.7), (0.7, 0.6), (0.8, 0.5), (0.9, 0.45), (1.0, 0.6), (0.9, 0.7),
                (0.55, 0.45), (0.5, 0.3), (0.45, 0.2), (1.1, 0.65), (0.75, 0.65), (0.85, 0.95), (0.95, 0.95)]
p6_black_core = [(-0.85, 0.65), (-0.8, 0.5), (-0.78, 0.78), (-0.75, 0.58), (-0.72, 0.42), (-0.7, 0.95), (-0.68, 0.62), (-0.65, 0.35),
                 (-0.63, 0.82), (-0.6, 1.05), (-0.58, 0.48), (-0.56, 0.7), (-0.55, 0.25), (-0.53, 0.9), (-0.51, 0.55), (-0.5, 1.2),
                 (-0.48, 0.38), (-0.46, 0.75), (-0.45, 0.18), (-0.43, 1.0), (-0.42, 0.55), (-0.4, 0.85), (-0.39, 0.3), (-0.37, 0.65),
                 (-0.36, 1.15), (-0.35, 0.12), (-0.33, 0.45), (-0.32, 0.9), (-0.3, 0.7), (-0.29, 0.25), (-0.28, 1.05), (-0.27, 0.52),
                 (-0.26, 0.08), (-0.25, 0.8), (-0.24, 0.38), (-0.23, 1.25), (-0.22, 0.62), (-0.21, 0.18), (-0.2, 0.95), (-0.19, 0.45),
                 (-0.18, 0.72), (-0.17, 0.05), (-0.16, 1.1), (-0.15, 0.3), (-0.14, 0.58), (-0.13, 0.85), (-0.12, 0.15), (-0.11, 0.42),
                 (-0.1, 1.0), (-0.09, 0.68), (-0.08, 0.25), (-0.07, 0.05), (-0.06, 0.52), (-0.05, 0.8), (-0.04, 1.2), (-0.03, 0.35),
                 (-0.02, 0.12), (0.0, 0.6), (0.01, 0.9), (0.02, 0.22), (0.03, 0.45), (0.04, 0.05), (0.05, 0.75), (0.06, 1.1),
                 (0.07, 0.3), (0.08, 0.55), (0.09, 0.15), (0.1, 0.85), (0.11, 0.4), (0.12, 1.25), (0.13, 0.65), (0.14, 0.08),
                 (0.15, 0.28), (0.16, 0.95), (0.17, 0.5), (0.18, 0.18), (0.19, 0.75), (0.2, 1.05), (0.21, 0.38), (0.22, 0.6),
                 (0.23, 0.1), (0.24, 0.88), (0.25, 0.3), (0.26, 1.15), (0.27, 0.5), (0.28, 0.7), (0.3, 0.2), (0.31, 0.95),
                 (0.33, 0.42), (0.35, 0.62), (0.37, 1.1), (0.38, 0.28), (0.4, 0.8), (0.42, 0.5), (0.45, 1.0), (0.47, 0.35),
                 (0.5, 0.65), (0.52, 0.88), (0.55, 0.25), (0.58, 0.55), (0.6, 1.15), (0.63, 0.42), (0.66, 0.72), (0.7, 0.5),
                 (0.72, 0.95), (0.75, 0.35), (0.8, 0.7), (0.85, 0.58),
                 (-0.18, 2.18), (-0.1, 2.12), (0.18, 2.18), (0.08, 2.12), (-0.24, 2.05), (-0.15, 1.98), (0.15, 1.95), (0.05, 1.9),
                 (-0.22, 1.9), (-0.1, 1.82), (0.2, 1.82), (0.1, 1.75), (-0.18, 1.68), (0.24, 1.65), (-0.22, 1.58), (0.06, 1.58),
                 (-0.08, 1.52), (0.18, 1.5), (-0.25, 1.45), (0.12, 1.38), (-0.12, 1.32), (0.22, 1.25), (-0.2, 1.26)]
p6_black_base = [(-0.43, 0.22), (-0.39, 0.35), (-0.36, 0.1), (-0.34, 0.28), (-0.31, 0.16), (-0.29, 0.45), (-0.27, 0.05),
                 (-0.25, 0.2), (-0.23, 0.4), (-0.21, 0.1), (-0.2, 0.55), (-0.18, 0.28), (-0.16, 0.14), (-0.15, 0.4),
                 (-0.13, 0.03), (-0.12, 0.25), (-0.1, 0.6), (-0.09, 0.12), (-0.08, 0.38), (-0.06, 0.2), (-0.05, 0.04),
                 (-0.04, 0.48), (-0.02, 0.28), (-0.01, 0.08), (0.0, 0.35), (0.02, 0.15), (0.03, 0.62), (0.05, 0.3), (0.06, 0.05),
                 (0.07, 0.2), (0.09, 0.45), (0.1, 0.1), (0.11, 0.3), (0.13, 0.5), (0.14, 0.18), (0.16, 0.04), (0.17, 0.35),
                 (0.19, 0.58), (0.2, 0.12), (0.22, 0.28), (0.23, 0.45), (0.25, 0.06), (0.27, 0.22), (0.29, 0.38), (0.31, 0.12),
                 (0.34, 0.3), (0.36, 0.45), (0.39, 0.12), (0.42, 0.32), (0.46, 0.25), (0.5, 0.42), (0.55, 0.2), (0.6, 0.38),
                 (-0.2, 1.0), (-0.12, 1.12), (0.14, 1.05), (0.22, 0.95)]

panels = [
    (p1_black_rows, p1_black_pts + p1_black_core + p1_black_base, p1_green_rows, p1_green_pts, p1_red_rows, p1_red_pts),
    (p2_black_rows, p2_black_pts + p2_black_core + p2_black_base, p2_green_rows, p2_green_pts, p2_red_rows, p2_red_pts),
    (p3_black_rows, p3_black_pts + p3_black_core + p3_black_base, p3_green_rows, p3_green_pts, p3_red_rows, p3_red_pts),
    (p4_black_rows, p4_black_pts + p4_black_core + p4_black_base, p4_green_rows, p4_green_pts, p4_red_rows, p4_red_pts),
    (p5_black_rows, p5_black_pts + p5_black_core + p5_black_base, p5_green_rows, p5_green_pts, p5_red_rows, p5_red_pts),
    (p6_black_rows, p6_black_pts + p6_black_core + p6_black_base, p6_green_rows, p6_green_pts, p6_red_rows, p6_red_pts),
]


def unpack(rows, pts):
    xs, ys = [], []
    for y, row in rows:
        xs += row
        ys += [y] * len(row)
    for x, y in pts:
        xs.append(x)
        ys.append(y)
    return xs, ys


fig = plt.figure(figsize=(9.57, 10.48), dpi=100)
lefts = [0.0366, 0.5622]
bottoms = [0.730, 0.3874, 0.0439]

for i, data in enumerate(panels):
    ax = fig.add_axes([lefts[i % 2], bottoms[i // 2], 0.4300, 0.249])
    for (rows, pts), col in zip([(data[0], data[1]), (data[2], data[3]), (data[4], data[5])],
                                ['#1a1a1a', '#22ee22', '#ff2a2a']):
        xs, ys = unpack(rows, pts)
        ax.scatter(xs, ys, s=11, facecolors='none', edgecolors=col, linewidths=0.75, zorder=2)
    for xv in (-fc_cut, fc_cut):
        ax.axvline(xv, color='#4f4fff', lw=1.2, dashes=(5, 3.5), zorder=3)
    ax.axhline(q_cut, color='#4f4fff', lw=1.2, dashes=(5, 3.5), zorder=3)
    ax.set_xlim(-4, 4)
    ax.set_ylim(-0.25, 3.25)
    ax.set_xticks([-4, -2, 0, 2, 4])
    ax.set_xticks([-3, -1, 1, 3], minor=True)
    ax.set_yticks([0, 1, 2, 3])
    ax.set_yticks([0.5, 1.5, 2.5], minor=True)
    ax.tick_params(which='both', direction='in', top=False, right=False, width=1, labelsize=9)
    ax.tick_params(which='major', length=4)
    ax.tick_params(which='minor', length=2.5)
    for sp in ax.spines.values():
        sp.set_linewidth(1.2)
    ax.set_title(titles[i], fontsize=10, pad=6)
    ax.set_xlabel('log$_2$(Ratio)', fontsize=10, labelpad=4)
    ax.set_ylabel('-log$_{10}$(Q-value)', fontsize=10, labelpad=4)

fig.savefig('out.png', dpi=100)
